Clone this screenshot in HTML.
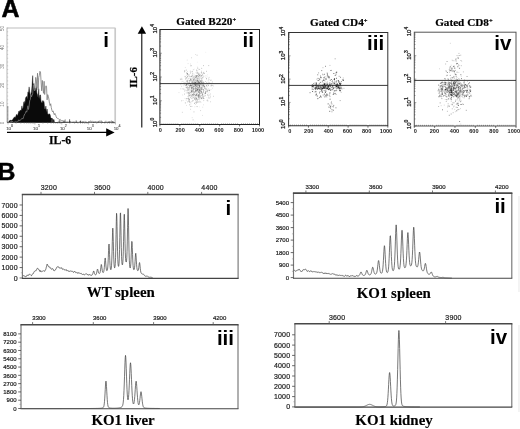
<!DOCTYPE html>
<html lang="en">
<head>
<meta charset="utf-8">
<title>Figure</title>
<style>
html,body{margin:0;padding:0;background:#fff;}
body{width:520px;height:429px;overflow:hidden;}
svg{display:block;filter:blur(0.3px);}
.sa{font-family:"Liberation Sans", Arial, Helvetica, sans-serif;}
.se{font-family:"Liberation Serif", "Times New Roman", Times, serif;}
</style>
</head>
<body>
<svg width="520" height="429" viewBox="0 0 520 429">
<rect width="520" height="429" fill="#fff"/>
<text class="sa" x="1.5" y="17.2" font-size="24.9" font-weight="bold" text-anchor="start" fill="#000" stroke="#000" stroke-width="0.5">A</text>
<text class="sa" x="-2.4" y="180.2" font-size="24.8" font-weight="bold" text-anchor="start" fill="#000" stroke="#000" stroke-width="0.5">B</text>
<path d="M7 122.5V28H115.5" fill="none" stroke="#bdbdbd" stroke-width="1.1"/>
<path d="M115.2 28V122.5" fill="none" stroke="#cacaca" stroke-width="1.7"/>
<path d="M7 122.5H115.5" fill="none" stroke="#a8a8a8" stroke-width="1"/>
<text class="sa" transform="translate(4.2 28.5) rotate(-90)" font-size="4.6" font-weight="normal" text-anchor="middle" fill="#777" >50</text>
<text class="sa" transform="translate(4.2 47.4) rotate(-90)" font-size="4.6" font-weight="normal" text-anchor="middle" fill="#777" >40</text>
<text class="sa" transform="translate(4.2 66.3) rotate(-90)" font-size="4.6" font-weight="normal" text-anchor="middle" fill="#777" >30</text>
<text class="sa" transform="translate(4.2 85.2) rotate(-90)" font-size="4.6" font-weight="normal" text-anchor="middle" fill="#777" >20</text>
<text class="sa" transform="translate(4.2 104.1) rotate(-90)" font-size="4.6" font-weight="normal" text-anchor="middle" fill="#777" >10</text>
<text class="sa" transform="translate(4.2 123.0) rotate(-90)" font-size="4.6" font-weight="normal" text-anchor="middle" fill="#777" >0</text>
<line x1="7" x2="8.2" y1="28.00" y2="28.00" stroke="#aaa" stroke-width="0.5"/>
<line x1="7" x2="8.2" y1="31.78" y2="31.78" stroke="#aaa" stroke-width="0.5"/>
<line x1="7" x2="8.2" y1="35.56" y2="35.56" stroke="#aaa" stroke-width="0.5"/>
<line x1="7" x2="8.2" y1="39.34" y2="39.34" stroke="#aaa" stroke-width="0.5"/>
<line x1="7" x2="8.2" y1="43.12" y2="43.12" stroke="#aaa" stroke-width="0.5"/>
<line x1="7" x2="8.2" y1="46.90" y2="46.90" stroke="#aaa" stroke-width="0.5"/>
<line x1="7" x2="8.2" y1="50.68" y2="50.68" stroke="#aaa" stroke-width="0.5"/>
<line x1="7" x2="8.2" y1="54.46" y2="54.46" stroke="#aaa" stroke-width="0.5"/>
<line x1="7" x2="8.2" y1="58.24" y2="58.24" stroke="#aaa" stroke-width="0.5"/>
<line x1="7" x2="8.2" y1="62.02" y2="62.02" stroke="#aaa" stroke-width="0.5"/>
<line x1="7" x2="8.2" y1="65.80" y2="65.80" stroke="#aaa" stroke-width="0.5"/>
<line x1="7" x2="8.2" y1="69.58" y2="69.58" stroke="#aaa" stroke-width="0.5"/>
<line x1="7" x2="8.2" y1="73.36" y2="73.36" stroke="#aaa" stroke-width="0.5"/>
<line x1="7" x2="8.2" y1="77.14" y2="77.14" stroke="#aaa" stroke-width="0.5"/>
<line x1="7" x2="8.2" y1="80.92" y2="80.92" stroke="#aaa" stroke-width="0.5"/>
<line x1="7" x2="8.2" y1="84.70" y2="84.70" stroke="#aaa" stroke-width="0.5"/>
<line x1="7" x2="8.2" y1="88.48" y2="88.48" stroke="#aaa" stroke-width="0.5"/>
<line x1="7" x2="8.2" y1="92.26" y2="92.26" stroke="#aaa" stroke-width="0.5"/>
<line x1="7" x2="8.2" y1="96.04" y2="96.04" stroke="#aaa" stroke-width="0.5"/>
<line x1="7" x2="8.2" y1="99.82" y2="99.82" stroke="#aaa" stroke-width="0.5"/>
<line x1="7" x2="8.2" y1="103.60" y2="103.60" stroke="#aaa" stroke-width="0.5"/>
<line x1="7" x2="8.2" y1="107.38" y2="107.38" stroke="#aaa" stroke-width="0.5"/>
<line x1="7" x2="8.2" y1="111.16" y2="111.16" stroke="#aaa" stroke-width="0.5"/>
<line x1="7" x2="8.2" y1="114.94" y2="114.94" stroke="#aaa" stroke-width="0.5"/>
<line x1="7" x2="8.2" y1="118.72" y2="118.72" stroke="#aaa" stroke-width="0.5"/>
<line x1="7" x2="8.2" y1="122.50" y2="122.50" stroke="#aaa" stroke-width="0.5"/>
<polygon points="7.5,122.5 7.5,122.3 8.1,122.2 8.7,122.0 9.3,121.0 9.9,120.2 10.5,120.1 11.1,120.9 11.7,120.0 12.3,119.7 12.9,119.7 13.5,117.9 14.1,117.4 14.7,117.1 15.3,117.6 15.9,116.1 16.5,114.3 17.1,115.5 17.7,115.1 18.3,113.1 18.9,111.0 19.5,112.0 20.1,110.0 20.7,110.5 21.3,110.2 21.9,105.9 22.5,109.3 23.1,107.8 23.7,102.2 24.3,101.4 24.9,104.1 25.5,98.3 26.1,96.8 26.7,96.6 27.3,99.2 27.9,91.9 28.5,92.8 29.1,86.9 29.7,91.7 30.3,96.3 30.9,94.0 31.5,91.7 32.1,84.7 32.7,75.6 33.3,89.3 33.9,83.4 34.5,89.6 35.1,88.1 35.7,91.5 36.3,86.6 36.9,93.0 37.5,94.8 38.1,98.2 38.7,88.8 39.3,99.3 39.9,95.0 40.5,94.9 41.1,102.8 41.7,102.2 42.3,100.5 42.9,103.1 43.5,100.7 44.1,102.2 44.7,108.9 45.3,109.2 45.9,106.0 46.5,112.5 47.1,109.0 47.7,114.1 48.3,114.4 48.9,113.7 49.5,114.1 50.1,114.5 50.7,117.4 51.3,118.6 51.9,118.0 52.5,118.8 53.1,119.9 53.7,119.5 54.3,121.3 54.9,122.5 55.5,122.5 56.1,122.5 56.7,122.5 57.3,122.5 57.9,122.5 58.5,122.5 59.1,122.5 59.7,122.5 60.3,122.5 60.9,122.5 61.5,122.5 62.1,122.5 62.7,122.5 63.3,122.5 63.9,122.5 64.5,122.5 65.1,122.5 65.7,122.5 66.3,122.5 66.9,122.5 67.5,122.5 68.1,122.5 68.7,122.5 69.3,122.5 69.9,122.5 70.5,122.5 71.1,122.5 71.7,122.5 72.3,122.5 72.9,122.5 73.5,122.5 74.1,122.5 74.7,122.5 75.3,122.5 75.9,122.5 76.5,122.5 77.1,122.5 77.7,122.5 78.3,122.5 78.9,122.5 79.5,122.5 80.1,122.5 80.7,122.5 81.3,122.5 81.9,122.5 82.5,122.5 83.1,122.5 83.7,122.5 84.3,122.5 84.9,122.5 85.5,122.5 86.1,122.5 86.7,122.5 87.3,122.5 87.9,122.5 88.5,122.5 89.1,122.5 89.7,122.5 90.3,122.5 90.9,122.5 91.5,122.5 92.1,122.5 92.7,122.5 93.3,122.5 93.9,122.5 94.5,122.5 95.1,122.5 95.7,122.5 96.3,122.5 96.9,122.5 97.5,122.5 98.1,122.5 98.7,122.5 99.3,122.5 99.9,122.5 100.5,122.5 101.1,122.5 101.7,122.5 102.3,122.5 102.9,122.5 103.5,122.5 104.1,122.5 104.7,122.5 105.3,122.5 105.9,122.5 106.5,122.5 107.1,122.5 107.7,122.5 108.3,122.5 108.9,122.5 109.5,122.5 110.1,122.5 110.7,122.5 111.3,122.5 111.9,122.5 112.5,122.5 113.1,122.5 113.7,122.5 114.3,122.5 114.5,122.5" fill="#0a0a0a" stroke="#0a0a0a" stroke-width="0.4"/>
<polyline points="7.5,121.8 8.1,122.5 8.7,122.5 9.3,122.5 9.9,122.5 10.5,122.3 11.1,121.2 11.7,122.4 12.3,121.3 12.9,121.6 13.5,122.3 14.1,122.3 14.7,122.1 15.3,121.5 15.9,122.1 16.5,122.0 17.1,121.7 17.7,121.0 18.3,121.2 18.9,119.8 19.5,120.6 20.1,120.6 20.7,119.9 21.3,119.0 21.9,118.3 22.5,118.6 23.1,118.7 23.7,116.5 24.3,115.0 24.9,113.7 25.5,113.2 26.1,111.3 26.7,112.1 27.3,109.2 27.9,105.8 28.5,109.5 29.1,106.0 29.7,100.7 30.3,99.7 30.9,94.6 31.5,96.9 32.1,95.2 32.7,93.9 33.3,85.1 33.9,88.7 34.5,90.8 35.1,87.6 35.7,77.4 36.3,79.8 36.9,87.8 37.5,73.2 38.1,89.8 38.7,77.5 39.3,75.3 39.9,71.3 40.5,72.0 41.1,82.1 41.7,90.8 42.3,80.4 42.9,87.9 43.5,93.3 44.1,81.3 44.7,94.5 45.3,86.7 45.9,85.8 46.5,86.2 47.1,99.9 47.7,94.6 48.3,96.2 48.9,99.0 49.5,103.5 50.1,105.6 50.7,103.7 51.3,107.7 51.9,110.2 52.5,111.8 53.1,110.9 53.7,113.1 54.3,114.8 54.9,113.4 55.5,114.5 56.1,116.5 56.7,117.9 57.3,118.4 57.9,118.1 58.5,118.8 59.1,119.6 59.7,119.6 60.3,119.4 60.9,120.6 61.5,120.7 62.1,121.1 62.7,120.6 63.3,121.3 63.9,121.5 64.5,121.7 65.1,120.8 65.7,121.6 66.3,122.0 66.9,122.0 67.5,121.9 68.1,122.0 68.7,122.1 69.3,122.1 69.9,121.0 70.5,122.2 71.1,122.2 71.7,122.3 72.3,122.2 72.9,121.6 73.5,122.2 74.1,121.6 74.7,122.3 75.3,122.3 75.9,122.3 76.5,122.3 77.1,122.2 77.7,122.3 78.3,122.4 78.9,122.3 79.5,122.4 80.1,121.0 80.7,121.4 81.3,122.4 81.9,122.0 82.5,121.9 83.1,121.2 83.7,122.4 84.3,122.4 84.9,122.4 85.5,122.4 86.1,122.4 86.7,122.4 87.3,122.5 87.9,122.5 88.5,122.5 89.1,121.1 89.7,122.5 90.3,122.5 90.9,122.5 91.5,121.8 92.1,122.5 92.7,122.5 93.3,122.5 93.9,122.0 94.5,122.5 95.1,121.3 95.7,122.5 96.3,122.5 96.9,121.7 97.5,121.9 98.1,122.5 98.7,121.1 99.3,122.5 99.9,122.5 100.5,122.5 101.1,122.0 101.7,121.8 102.3,121.9 102.9,121.9 103.5,122.5 104.1,122.5 104.7,121.8 105.3,122.1 105.9,122.5 106.5,122.5 107.1,122.5 107.7,122.3 108.3,122.5 108.9,121.2 109.5,121.8 110.1,121.7 110.7,122.5 111.3,121.7 111.9,122.5 112.5,122.5 113.1,121.5 113.7,122.2 114.3,122.5" fill="none" stroke="#7c7c7c" stroke-width="0.8"/>
<line x1="7.8" x2="7.8" y1="106" y2="122.5" stroke="#666" stroke-width="0.7"/>
<line x1="52.0" x2="52.0" y1="119.2" y2="122.5" stroke="#888" stroke-width="0.7"/>
<line x1="53.1" x2="53.1" y1="122.0" y2="122.5" stroke="#222" stroke-width="0.7"/>
<line x1="54.2" x2="54.2" y1="119.5" y2="122.5" stroke="#888" stroke-width="0.7"/>
<line x1="55.3" x2="55.3" y1="122.4" y2="122.5" stroke="#888" stroke-width="0.7"/>
<line x1="57.5" x2="57.5" y1="121.9" y2="122.5" stroke="#222" stroke-width="0.7"/>
<line x1="58.6" x2="58.6" y1="120.7" y2="122.5" stroke="#888" stroke-width="0.7"/>
<line x1="59.7" x2="59.7" y1="120.3" y2="122.5" stroke="#222" stroke-width="0.7"/>
<line x1="60.8" x2="60.8" y1="121.2" y2="122.5" stroke="#888" stroke-width="0.7"/>
<line x1="63.0" x2="63.0" y1="120.7" y2="122.5" stroke="#888" stroke-width="0.7"/>
<line x1="64.1" x2="64.1" y1="120.4" y2="122.5" stroke="#222" stroke-width="0.7"/>
<line x1="65.2" x2="65.2" y1="119.2" y2="122.5" stroke="#888" stroke-width="0.7"/>
<line x1="67.4" x2="67.4" y1="122.2" y2="122.5" stroke="#888" stroke-width="0.7"/>
<line x1="68.5" x2="68.5" y1="122.1" y2="122.5" stroke="#888" stroke-width="0.7"/>
<line x1="69.6" x2="69.6" y1="119.3" y2="122.5" stroke="#222" stroke-width="0.7"/>
<line x1="70.7" x2="70.7" y1="121.4" y2="122.5" stroke="#888" stroke-width="0.7"/>
<line x1="71.8" x2="71.8" y1="121.8" y2="122.5" stroke="#888" stroke-width="0.7"/>
<line x1="76.2" x2="76.2" y1="120.5" y2="122.5" stroke="#222" stroke-width="0.7"/>
<line x1="77.3" x2="77.3" y1="122.4" y2="122.5" stroke="#222" stroke-width="0.7"/>
<line x1="78.4" x2="78.4" y1="121.9" y2="122.5" stroke="#888" stroke-width="0.7"/>
<line x1="79.5" x2="79.5" y1="121.9" y2="122.5" stroke="#888" stroke-width="0.7"/>
<line x1="80.6" x2="80.6" y1="120.7" y2="122.5" stroke="#222" stroke-width="0.7"/>
<line x1="83.9" x2="83.9" y1="122.5" y2="122.5" stroke="#888" stroke-width="0.7"/>
<line x1="85.0" x2="85.0" y1="120.9" y2="122.5" stroke="#888" stroke-width="0.7"/>
<line x1="86.1" x2="86.1" y1="121.7" y2="122.5" stroke="#222" stroke-width="0.7"/>
<line x1="88.3" x2="88.3" y1="121.8" y2="122.5" stroke="#222" stroke-width="0.7"/>
<line x1="89.4" x2="89.4" y1="121.8" y2="122.5" stroke="#888" stroke-width="0.7"/>
<line x1="90.5" x2="90.5" y1="120.5" y2="122.5" stroke="#888" stroke-width="0.7"/>
<line x1="91.6" x2="91.6" y1="120.9" y2="122.5" stroke="#888" stroke-width="0.7"/>
<line x1="92.7" x2="92.7" y1="120.8" y2="122.5" stroke="#888" stroke-width="0.7"/>
<line x1="93.8" x2="93.8" y1="121.6" y2="122.5" stroke="#222" stroke-width="0.7"/>
<line x1="94.9" x2="94.9" y1="122.4" y2="122.5" stroke="#888" stroke-width="0.7"/>
<line x1="96.0" x2="96.0" y1="121.4" y2="122.5" stroke="#888" stroke-width="0.7"/>
<line x1="97.1" x2="97.1" y1="121.6" y2="122.5" stroke="#888" stroke-width="0.7"/>
<line x1="98.2" x2="98.2" y1="122.3" y2="122.5" stroke="#222" stroke-width="0.7"/>
<line x1="99.3" x2="99.3" y1="120.5" y2="122.5" stroke="#888" stroke-width="0.7"/>
<line x1="100.4" x2="100.4" y1="120.6" y2="122.5" stroke="#888" stroke-width="0.7"/>
<line x1="101.5" x2="101.5" y1="120.5" y2="122.5" stroke="#888" stroke-width="0.7"/>
<line x1="104.8" x2="104.8" y1="122.3" y2="122.5" stroke="#222" stroke-width="0.7"/>
<line x1="105.9" x2="105.9" y1="120.7" y2="122.5" stroke="#888" stroke-width="0.7"/>
<line x1="107.0" x2="107.0" y1="121.4" y2="122.5" stroke="#888" stroke-width="0.7"/>
<line x1="108.1" x2="108.1" y1="122.2" y2="122.5" stroke="#222" stroke-width="0.7"/>
<line x1="110.3" x2="110.3" y1="121.4" y2="122.5" stroke="#888" stroke-width="0.7"/>
<line x1="111.4" x2="111.4" y1="120.4" y2="122.5" stroke="#888" stroke-width="0.7"/>
<line x1="112.5" x2="112.5" y1="121.4" y2="122.5" stroke="#222" stroke-width="0.7"/>
<line x1="113.6" x2="113.6" y1="122.4" y2="122.5" stroke="#888" stroke-width="0.7"/>
<text class="sa" transform="translate(9.6 129.6) scale(1.0 1)" font-size="4.4" text-anchor="middle" fill="#555" stroke="#555" stroke-width="0.12">10<tspan dy="-2.20" font-size="3.61">0</tspan></text>
<line x1="8.00" x2="8.00" y1="122.5" y2="124.5" stroke="#777" stroke-width="0.5"/>
<line x1="16.09" x2="16.09" y1="122.5" y2="123.7" stroke="#777" stroke-width="0.5"/>
<line x1="20.82" x2="20.82" y1="122.5" y2="123.7" stroke="#777" stroke-width="0.5"/>
<line x1="24.18" x2="24.18" y1="122.5" y2="123.7" stroke="#777" stroke-width="0.5"/>
<line x1="26.78" x2="26.78" y1="122.5" y2="123.7" stroke="#777" stroke-width="0.5"/>
<line x1="28.91" x2="28.91" y1="122.5" y2="123.7" stroke="#777" stroke-width="0.5"/>
<line x1="30.71" x2="30.71" y1="122.5" y2="123.7" stroke="#777" stroke-width="0.5"/>
<line x1="32.27" x2="32.27" y1="122.5" y2="123.7" stroke="#777" stroke-width="0.5"/>
<line x1="33.65" x2="33.65" y1="122.5" y2="123.7" stroke="#777" stroke-width="0.5"/>
<text class="sa" transform="translate(36.475 129.6) scale(1.0 1)" font-size="4.4" text-anchor="middle" fill="#555" stroke="#555" stroke-width="0.12">10<tspan dy="-2.20" font-size="3.61">1</tspan></text>
<line x1="34.88" x2="34.88" y1="122.5" y2="124.5" stroke="#777" stroke-width="0.5"/>
<line x1="42.97" x2="42.97" y1="122.5" y2="123.7" stroke="#777" stroke-width="0.5"/>
<line x1="47.70" x2="47.70" y1="122.5" y2="123.7" stroke="#777" stroke-width="0.5"/>
<line x1="51.06" x2="51.06" y1="122.5" y2="123.7" stroke="#777" stroke-width="0.5"/>
<line x1="53.66" x2="53.66" y1="122.5" y2="123.7" stroke="#777" stroke-width="0.5"/>
<line x1="55.79" x2="55.79" y1="122.5" y2="123.7" stroke="#777" stroke-width="0.5"/>
<line x1="57.59" x2="57.59" y1="122.5" y2="123.7" stroke="#777" stroke-width="0.5"/>
<line x1="59.15" x2="59.15" y1="122.5" y2="123.7" stroke="#777" stroke-width="0.5"/>
<line x1="60.52" x2="60.52" y1="122.5" y2="123.7" stroke="#777" stroke-width="0.5"/>
<text class="sa" transform="translate(63.35 129.6) scale(1.0 1)" font-size="4.4" text-anchor="middle" fill="#555" stroke="#555" stroke-width="0.12">10<tspan dy="-2.20" font-size="3.61">2</tspan></text>
<line x1="61.75" x2="61.75" y1="122.5" y2="124.5" stroke="#777" stroke-width="0.5"/>
<line x1="69.84" x2="69.84" y1="122.5" y2="123.7" stroke="#777" stroke-width="0.5"/>
<line x1="74.57" x2="74.57" y1="122.5" y2="123.7" stroke="#777" stroke-width="0.5"/>
<line x1="77.93" x2="77.93" y1="122.5" y2="123.7" stroke="#777" stroke-width="0.5"/>
<line x1="80.53" x2="80.53" y1="122.5" y2="123.7" stroke="#777" stroke-width="0.5"/>
<line x1="82.66" x2="82.66" y1="122.5" y2="123.7" stroke="#777" stroke-width="0.5"/>
<line x1="84.46" x2="84.46" y1="122.5" y2="123.7" stroke="#777" stroke-width="0.5"/>
<line x1="86.02" x2="86.02" y1="122.5" y2="123.7" stroke="#777" stroke-width="0.5"/>
<line x1="87.40" x2="87.40" y1="122.5" y2="123.7" stroke="#777" stroke-width="0.5"/>
<text class="sa" transform="translate(90.225 129.6) scale(1.0 1)" font-size="4.4" text-anchor="middle" fill="#555" stroke="#555" stroke-width="0.12">10<tspan dy="-2.20" font-size="3.61">3</tspan></text>
<line x1="88.62" x2="88.62" y1="122.5" y2="124.5" stroke="#777" stroke-width="0.5"/>
<line x1="96.72" x2="96.72" y1="122.5" y2="123.7" stroke="#777" stroke-width="0.5"/>
<line x1="101.45" x2="101.45" y1="122.5" y2="123.7" stroke="#777" stroke-width="0.5"/>
<line x1="104.81" x2="104.81" y1="122.5" y2="123.7" stroke="#777" stroke-width="0.5"/>
<line x1="107.41" x2="107.41" y1="122.5" y2="123.7" stroke="#777" stroke-width="0.5"/>
<line x1="109.54" x2="109.54" y1="122.5" y2="123.7" stroke="#777" stroke-width="0.5"/>
<line x1="111.34" x2="111.34" y1="122.5" y2="123.7" stroke="#777" stroke-width="0.5"/>
<line x1="112.90" x2="112.90" y1="122.5" y2="123.7" stroke="#777" stroke-width="0.5"/>
<line x1="114.27" x2="114.27" y1="122.5" y2="123.7" stroke="#777" stroke-width="0.5"/>
<text class="sa" transform="translate(117.1 129.6) scale(1.0 1)" font-size="4.4" text-anchor="middle" fill="#555" stroke="#555" stroke-width="0.12">10<tspan dy="-2.20" font-size="3.61">4</tspan></text>
<line x1="115.50" x2="115.50" y1="122.5" y2="124.5" stroke="#777" stroke-width="0.5"/>
<line x1="7" x2="108" y1="132.4" y2="132.4" stroke="#000" stroke-width="1.1"/>
<polygon points="106.2,128.2 114.6,132.4 106.2,136.6" fill="#000"/>
<text class="se" x="60.1" y="143.6" font-size="11.7" font-weight="bold" text-anchor="middle" fill="#000" stroke="#000" stroke-width="0.25">IL-6</text>
<text class="sa" x="103.3" y="46.9" font-size="20.6" font-weight="bold" text-anchor="start" fill="#000" >i</text>
<line x1="141.8" x2="141.8" y1="32" y2="127.5" stroke="#000" stroke-width="1.05"/>
<polygon points="137.7,33.7 141.9,26.2 146.1,33.7" fill="#000"/>
<text class="se" transform="translate(136.9 77.4) rotate(-90)" font-size="10.9" font-weight="bold" text-anchor="middle" fill="#000" stroke="#000" stroke-width="0.25">IL-6</text>
<rect x="159.9" y="29.5" width="99.6" height="95.0" fill="none" stroke="#222" stroke-width="1"/>
<line x1="159.9" x2="161.9" y1="124.50" y2="124.50" stroke="#333" stroke-width="0.45"/>
<line x1="159.9" x2="161.1" y1="117.35" y2="117.35" stroke="#333" stroke-width="0.45"/>
<line x1="159.9" x2="161.1" y1="113.17" y2="113.17" stroke="#333" stroke-width="0.45"/>
<line x1="159.9" x2="161.1" y1="110.20" y2="110.20" stroke="#333" stroke-width="0.45"/>
<line x1="159.9" x2="161.1" y1="107.90" y2="107.90" stroke="#333" stroke-width="0.45"/>
<line x1="159.9" x2="161.1" y1="106.02" y2="106.02" stroke="#333" stroke-width="0.45"/>
<line x1="159.9" x2="161.1" y1="104.43" y2="104.43" stroke="#333" stroke-width="0.45"/>
<line x1="159.9" x2="161.1" y1="103.05" y2="103.05" stroke="#333" stroke-width="0.45"/>
<line x1="159.9" x2="161.1" y1="101.84" y2="101.84" stroke="#333" stroke-width="0.45"/>
<line x1="159.9" x2="161.9" y1="100.75" y2="100.75" stroke="#333" stroke-width="0.45"/>
<line x1="159.9" x2="161.1" y1="93.60" y2="93.60" stroke="#333" stroke-width="0.45"/>
<line x1="159.9" x2="161.1" y1="89.42" y2="89.42" stroke="#333" stroke-width="0.45"/>
<line x1="159.9" x2="161.1" y1="86.45" y2="86.45" stroke="#333" stroke-width="0.45"/>
<line x1="159.9" x2="161.1" y1="84.15" y2="84.15" stroke="#333" stroke-width="0.45"/>
<line x1="159.9" x2="161.1" y1="82.27" y2="82.27" stroke="#333" stroke-width="0.45"/>
<line x1="159.9" x2="161.1" y1="80.68" y2="80.68" stroke="#333" stroke-width="0.45"/>
<line x1="159.9" x2="161.1" y1="79.30" y2="79.30" stroke="#333" stroke-width="0.45"/>
<line x1="159.9" x2="161.1" y1="78.09" y2="78.09" stroke="#333" stroke-width="0.45"/>
<line x1="159.9" x2="161.9" y1="77.00" y2="77.00" stroke="#333" stroke-width="0.45"/>
<line x1="159.9" x2="161.1" y1="69.85" y2="69.85" stroke="#333" stroke-width="0.45"/>
<line x1="159.9" x2="161.1" y1="65.67" y2="65.67" stroke="#333" stroke-width="0.45"/>
<line x1="159.9" x2="161.1" y1="62.70" y2="62.70" stroke="#333" stroke-width="0.45"/>
<line x1="159.9" x2="161.1" y1="60.40" y2="60.40" stroke="#333" stroke-width="0.45"/>
<line x1="159.9" x2="161.1" y1="58.52" y2="58.52" stroke="#333" stroke-width="0.45"/>
<line x1="159.9" x2="161.1" y1="56.93" y2="56.93" stroke="#333" stroke-width="0.45"/>
<line x1="159.9" x2="161.1" y1="55.55" y2="55.55" stroke="#333" stroke-width="0.45"/>
<line x1="159.9" x2="161.1" y1="54.34" y2="54.34" stroke="#333" stroke-width="0.45"/>
<line x1="159.9" x2="161.9" y1="53.25" y2="53.25" stroke="#333" stroke-width="0.45"/>
<line x1="159.9" x2="161.1" y1="46.10" y2="46.10" stroke="#333" stroke-width="0.45"/>
<line x1="159.9" x2="161.1" y1="41.92" y2="41.92" stroke="#333" stroke-width="0.45"/>
<line x1="159.9" x2="161.1" y1="38.95" y2="38.95" stroke="#333" stroke-width="0.45"/>
<line x1="159.9" x2="161.1" y1="36.65" y2="36.65" stroke="#333" stroke-width="0.45"/>
<line x1="159.9" x2="161.1" y1="34.77" y2="34.77" stroke="#333" stroke-width="0.45"/>
<line x1="159.9" x2="161.1" y1="33.18" y2="33.18" stroke="#333" stroke-width="0.45"/>
<line x1="159.9" x2="161.1" y1="31.80" y2="31.80" stroke="#333" stroke-width="0.45"/>
<line x1="159.9" x2="161.1" y1="30.59" y2="30.59" stroke="#333" stroke-width="0.45"/>
<line x1="159.90" x2="159.90" y1="124.5" y2="126.4" stroke="#333" stroke-width="0.7"/>
<line x1="161.89" x2="161.89" y1="124.5" y2="123.3" stroke="#333" stroke-width="0.45"/>
<line x1="163.88" x2="163.88" y1="124.5" y2="123.3" stroke="#333" stroke-width="0.45"/>
<line x1="165.88" x2="165.88" y1="124.5" y2="123.3" stroke="#333" stroke-width="0.45"/>
<line x1="167.87" x2="167.87" y1="124.5" y2="123.3" stroke="#333" stroke-width="0.45"/>
<line x1="169.86" x2="169.86" y1="124.5" y2="123.3" stroke="#333" stroke-width="0.45"/>
<line x1="171.85" x2="171.85" y1="124.5" y2="123.3" stroke="#333" stroke-width="0.45"/>
<line x1="173.84" x2="173.84" y1="124.5" y2="123.3" stroke="#333" stroke-width="0.45"/>
<line x1="175.84" x2="175.84" y1="124.5" y2="123.3" stroke="#333" stroke-width="0.45"/>
<line x1="177.83" x2="177.83" y1="124.5" y2="123.3" stroke="#333" stroke-width="0.45"/>
<line x1="179.82" x2="179.82" y1="124.5" y2="126.4" stroke="#333" stroke-width="0.7"/>
<line x1="181.81" x2="181.81" y1="124.5" y2="123.3" stroke="#333" stroke-width="0.45"/>
<line x1="183.80" x2="183.80" y1="124.5" y2="123.3" stroke="#333" stroke-width="0.45"/>
<line x1="185.80" x2="185.80" y1="124.5" y2="123.3" stroke="#333" stroke-width="0.45"/>
<line x1="187.79" x2="187.79" y1="124.5" y2="123.3" stroke="#333" stroke-width="0.45"/>
<line x1="189.78" x2="189.78" y1="124.5" y2="123.3" stroke="#333" stroke-width="0.45"/>
<line x1="191.77" x2="191.77" y1="124.5" y2="123.3" stroke="#333" stroke-width="0.45"/>
<line x1="193.76" x2="193.76" y1="124.5" y2="123.3" stroke="#333" stroke-width="0.45"/>
<line x1="195.76" x2="195.76" y1="124.5" y2="123.3" stroke="#333" stroke-width="0.45"/>
<line x1="197.75" x2="197.75" y1="124.5" y2="123.3" stroke="#333" stroke-width="0.45"/>
<line x1="199.74" x2="199.74" y1="124.5" y2="126.4" stroke="#333" stroke-width="0.7"/>
<line x1="201.73" x2="201.73" y1="124.5" y2="123.3" stroke="#333" stroke-width="0.45"/>
<line x1="203.72" x2="203.72" y1="124.5" y2="123.3" stroke="#333" stroke-width="0.45"/>
<line x1="205.72" x2="205.72" y1="124.5" y2="123.3" stroke="#333" stroke-width="0.45"/>
<line x1="207.71" x2="207.71" y1="124.5" y2="123.3" stroke="#333" stroke-width="0.45"/>
<line x1="209.70" x2="209.70" y1="124.5" y2="123.3" stroke="#333" stroke-width="0.45"/>
<line x1="211.69" x2="211.69" y1="124.5" y2="123.3" stroke="#333" stroke-width="0.45"/>
<line x1="213.68" x2="213.68" y1="124.5" y2="123.3" stroke="#333" stroke-width="0.45"/>
<line x1="215.68" x2="215.68" y1="124.5" y2="123.3" stroke="#333" stroke-width="0.45"/>
<line x1="217.67" x2="217.67" y1="124.5" y2="123.3" stroke="#333" stroke-width="0.45"/>
<line x1="219.66" x2="219.66" y1="124.5" y2="126.4" stroke="#333" stroke-width="0.7"/>
<line x1="221.65" x2="221.65" y1="124.5" y2="123.3" stroke="#333" stroke-width="0.45"/>
<line x1="223.64" x2="223.64" y1="124.5" y2="123.3" stroke="#333" stroke-width="0.45"/>
<line x1="225.64" x2="225.64" y1="124.5" y2="123.3" stroke="#333" stroke-width="0.45"/>
<line x1="227.63" x2="227.63" y1="124.5" y2="123.3" stroke="#333" stroke-width="0.45"/>
<line x1="229.62" x2="229.62" y1="124.5" y2="123.3" stroke="#333" stroke-width="0.45"/>
<line x1="231.61" x2="231.61" y1="124.5" y2="123.3" stroke="#333" stroke-width="0.45"/>
<line x1="233.60" x2="233.60" y1="124.5" y2="123.3" stroke="#333" stroke-width="0.45"/>
<line x1="235.60" x2="235.60" y1="124.5" y2="123.3" stroke="#333" stroke-width="0.45"/>
<line x1="237.59" x2="237.59" y1="124.5" y2="123.3" stroke="#333" stroke-width="0.45"/>
<line x1="239.58" x2="239.58" y1="124.5" y2="126.4" stroke="#333" stroke-width="0.7"/>
<line x1="241.57" x2="241.57" y1="124.5" y2="123.3" stroke="#333" stroke-width="0.45"/>
<line x1="243.56" x2="243.56" y1="124.5" y2="123.3" stroke="#333" stroke-width="0.45"/>
<line x1="245.56" x2="245.56" y1="124.5" y2="123.3" stroke="#333" stroke-width="0.45"/>
<line x1="247.55" x2="247.55" y1="124.5" y2="123.3" stroke="#333" stroke-width="0.45"/>
<line x1="249.54" x2="249.54" y1="124.5" y2="123.3" stroke="#333" stroke-width="0.45"/>
<line x1="251.53" x2="251.53" y1="124.5" y2="123.3" stroke="#333" stroke-width="0.45"/>
<line x1="253.52" x2="253.52" y1="124.5" y2="123.3" stroke="#333" stroke-width="0.45"/>
<line x1="255.52" x2="255.52" y1="124.5" y2="123.3" stroke="#333" stroke-width="0.45"/>
<line x1="257.51" x2="257.51" y1="124.5" y2="123.3" stroke="#333" stroke-width="0.45"/>
<line x1="259.50" x2="259.50" y1="124.5" y2="126.4" stroke="#333" stroke-width="0.7"/>
<text class="sa" transform="translate(156.70000000000002 122.5) rotate(-90) scale(1.12 1)" font-size="5.4" text-anchor="middle" fill="#222" stroke="#222" stroke-width="0.25">10<tspan dy="-2.70" font-size="4.43">0</tspan></text>
<text class="sa" transform="translate(156.70000000000002 100.2) rotate(-90) scale(1.12 1)" font-size="5.4" text-anchor="middle" fill="#222" stroke="#222" stroke-width="0.25">10<tspan dy="-2.70" font-size="4.43">1</tspan></text>
<text class="sa" transform="translate(156.70000000000002 76.8) rotate(-90) scale(1.12 1)" font-size="5.4" text-anchor="middle" fill="#222" stroke="#222" stroke-width="0.25">10<tspan dy="-2.70" font-size="4.43">2</tspan></text>
<text class="sa" transform="translate(156.70000000000002 52.7) rotate(-90) scale(1.12 1)" font-size="5.4" text-anchor="middle" fill="#222" stroke="#222" stroke-width="0.25">10<tspan dy="-2.70" font-size="4.43">3</tspan></text>
<text class="sa" transform="translate(156.70000000000002 28.8) rotate(-90) scale(1.12 1)" font-size="5.4" text-anchor="middle" fill="#222" stroke="#222" stroke-width="0.25">10<tspan dy="-2.70" font-size="4.43">4</tspan></text>
<text class="sa" x="160.20000000000002" y="131.8" font-size="5.6" font-weight="bold" text-anchor="middle" fill="#222" >0</text>
<text class="sa" x="180.1" y="131.8" font-size="5.6" font-weight="bold" text-anchor="middle" fill="#222" >200</text>
<text class="sa" x="199.45" y="131.8" font-size="5.6" font-weight="bold" text-anchor="middle" fill="#222" >400</text>
<text class="sa" x="218.95" y="131.8" font-size="5.6" font-weight="bold" text-anchor="middle" fill="#222" >600</text>
<text class="sa" x="238.5" y="131.8" font-size="5.6" font-weight="bold" text-anchor="middle" fill="#222" >800</text>
<text class="sa" x="257.9" y="131.8" font-size="5.6" font-weight="bold" text-anchor="middle" fill="#222" >1000</text>
<path d="M201.9 80.1h0.75M196.2 99.7h0.75M199.3 95.7h0.75M188.7 97.0h0.75M184.8 67.6h0.75M197.9 85.0h0.75M200.3 87.8h0.75M197.1 99.3h0.75M194.3 84.9h0.75M198.9 95.8h0.75M196.4 84.8h0.75M187.0 102.5h0.75M189.3 85.5h0.75M198.0 82.1h0.75M187.0 81.5h0.75M185.7 81.0h0.75M211.5 82.4h0.75M199.3 89.3h0.75M200.0 97.7h0.75M183.1 83.2h0.75M195.5 84.8h0.75M191.5 87.3h0.75M206.5 84.7h0.75M205.4 52.3h0.75M190.5 79.2h0.75M199.1 95.1h0.75M191.3 95.0h0.75M196.9 66.8h0.75M202.1 82.6h0.75M203.2 98.6h0.75M200.4 92.9h0.75M202.3 80.9h0.75M206.7 99.9h0.75M188.9 96.0h0.75M195.6 94.9h0.75M191.2 86.6h0.75M199.0 88.6h0.75M188.0 75.5h0.75M193.7 92.1h0.75M188.6 88.3h0.75M203.0 85.3h0.75M207.1 74.8h0.75M184.3 98.4h0.75M196.9 62.2h0.75M198.6 86.0h0.75M193.8 75.6h0.75M191.8 82.2h0.75M197.4 89.3h0.75M210.8 86.4h0.75M193.3 74.8h0.75M186.4 90.4h0.75M197.7 76.7h0.75M203.8 86.1h0.75M201.8 93.2h0.75M187.5 79.4h0.75M197.4 89.1h0.75M190.4 82.0h0.75M197.6 97.5h0.75M195.7 75.8h0.75M191.7 91.7h0.75M202.6 89.9h0.75M195.9 91.6h0.75M204.7 90.4h0.75M183.1 82.4h0.75M198.9 81.8h0.75M203.2 91.8h0.75M189.2 99.0h0.75M197.1 80.2h0.75M193.0 93.0h0.75M191.8 95.9h0.75M187.1 73.8h0.75M204.7 92.9h0.75M200.5 91.3h0.75M190.4 78.9h0.75M200.9 102.3h0.75M206.5 97.5h0.75M195.3 84.7h0.75M196.6 77.3h0.75M197.7 91.7h0.75M186.9 81.1h0.75M193.3 84.6h0.75M192.7 96.8h0.75M189.0 81.0h0.75M198.7 86.8h0.75M193.6 86.6h0.75M199.8 86.6h0.75M199.2 86.1h0.75M190.5 94.7h0.75M193.7 77.9h0.75M204.4 86.0h0.75M194.4 96.2h0.75M187.6 90.5h0.75M209.7 89.5h0.75M187.4 82.2h0.75M195.2 102.4h0.75M201.8 77.3h0.75M195.5 90.2h0.75M190.6 92.8h0.75M187.1 75.4h0.75M194.6 94.3h0.75M195.9 95.5h0.75M202.2 92.9h0.75M188.1 87.4h0.75M201.9 96.9h0.75M197.2 75.8h0.75M186.1 85.7h0.75M194.5 121.2h0.75M183.6 83.8h0.75M193.8 82.2h0.75M192.6 75.6h0.75M197.8 83.9h0.75M195.8 103.6h0.75M209.2 92.2h0.75M190.6 96.0h0.75M199.6 74.6h0.75M185.1 67.4h0.75M202.0 80.9h0.75M198.8 90.3h0.75M196.9 95.5h0.75M190.4 102.8h0.75M198.2 88.9h0.75M199.9 96.9h0.75M187.9 92.0h0.75M192.3 88.0h0.75M187.7 93.2h0.75M198.5 88.6h0.75M200.5 99.7h0.75M196.2 88.5h0.75M180.4 84.8h0.75M206.6 89.6h0.75M205.1 84.6h0.75M193.2 91.5h0.75M180.2 84.6h0.75M196.1 106.3h0.75M192.2 84.0h0.75M194.8 82.4h0.75M207.4 89.1h0.75M190.0 95.3h0.75M190.5 65.5h0.75M191.1 93.2h0.75M188.7 94.8h0.75M189.4 84.4h0.75M192.7 82.9h0.75M193.6 79.8h0.75M189.1 93.6h0.75M199.3 87.5h0.75M202.3 96.4h0.75M193.4 92.1h0.75M195.1 84.5h0.75M194.0 74.2h0.75M199.4 88.6h0.75M195.1 97.7h0.75M205.0 89.8h0.75M196.3 83.7h0.75M181.1 82.9h0.75M192.5 93.9h0.75M199.5 80.4h0.75M192.7 79.0h0.75M196.1 95.2h0.75M194.6 75.7h0.75M190.3 86.8h0.75M206.9 76.8h0.75M200.8 94.9h0.75M193.2 80.7h0.75M197.8 85.3h0.75M198.9 92.0h0.75M199.7 83.9h0.75M199.2 100.3h0.75M182.0 94.7h0.75M198.6 85.2h0.75M202.9 85.9h0.75M202.3 73.5h0.75M192.5 81.4h0.75M193.6 90.2h0.75M202.2 94.5h0.75M190.3 104.3h0.75M207.1 99.6h0.75M188.3 94.1h0.75M198.6 91.3h0.75M202.0 83.9h0.75M201.4 87.5h0.75M201.6 99.6h0.75M183.1 88.8h0.75M190.7 93.3h0.75M190.4 85.1h0.75M193.7 82.2h0.75M189.5 94.9h0.75M200.5 78.9h0.75M191.5 75.2h0.75M186.2 73.5h0.75M189.0 83.6h0.75M200.0 84.6h0.75M203.1 92.6h0.75M186.7 79.9h0.75M190.2 92.6h0.75M201.3 95.3h0.75M198.0 87.2h0.75M194.0 77.0h0.75M197.5 93.6h0.75M190.7 90.6h0.75M191.0 84.7h0.75M190.9 96.3h0.75M185.1 78.7h0.75M190.4 83.9h0.75M210.2 95.6h0.75M202.7 81.8h0.75M196.0 90.0h0.75M193.3 96.5h0.75M201.2 68.0h0.75M185.6 92.9h0.75M200.6 92.1h0.75M192.6 81.4h0.75M194.0 69.2h0.75M191.1 98.7h0.75M194.4 94.7h0.75M192.6 89.3h0.75M193.4 77.6h0.75M193.2 95.2h0.75M207.1 94.2h0.75M189.2 88.8h0.75M207.3 85.7h0.75M199.8 72.8h0.75M188.7 74.3h0.75M205.4 93.0h0.75M195.4 98.9h0.75M201.3 84.2h0.75M195.9 83.6h0.75M193.1 73.3h0.75M190.9 103.9h0.75M208.1 93.0h0.75M197.7 87.0h0.75M198.8 93.9h0.75M197.1 98.2h0.75M200.4 91.5h0.75M191.6 85.5h0.75M189.3 77.3h0.75M198.0 82.2h0.75M200.2 87.3h0.75M193.2 83.9h0.75M189.0 86.9h0.75M195.1 93.6h0.75M187.7 78.0h0.75M190.0 97.7h0.75M196.5 85.2h0.75M197.8 88.4h0.75M208.2 95.7h0.75M201.2 78.1h0.75M200.7 75.7h0.75M191.3 82.6h0.75M197.5 70.4h0.75M199.0 106.9h0.75M182.4 95.3h0.75M198.2 85.2h0.75M193.7 89.1h0.75M211.2 89.6h0.75M199.0 83.9h0.75M194.7 88.5h0.75" stroke="#000" stroke-width="0.75" fill="none" opacity="0.10"/>
<path d="M189.6 78.4h0.75M197.7 92.5h0.75M193.8 89.4h0.75M201.4 89.2h0.75M206.1 85.8h0.75M195.7 81.7h0.75M189.1 90.1h0.75M199.4 101.8h0.75M202.2 115.4h0.75M191.2 78.9h0.75M195.3 87.0h0.75M197.1 72.7h0.75M195.5 99.2h0.75M188.9 83.1h0.75M198.4 89.6h0.75M207.8 90.7h0.75M193.0 93.1h0.75M191.7 71.9h0.75M204.0 87.2h0.75M196.1 99.5h0.75M194.4 78.0h0.75M197.8 78.8h0.75M198.0 101.7h0.75M193.8 94.4h0.75M200.0 89.8h0.75M198.7 82.1h0.75M198.5 92.4h0.75M196.2 90.4h0.75M192.6 97.8h0.75M188.0 97.7h0.75M186.7 93.4h0.75M194.6 98.8h0.75M207.9 98.3h0.75M190.2 80.3h0.75M199.1 91.6h0.75M197.7 87.6h0.75M209.9 80.4h0.75M196.6 80.4h0.75M213.3 86.1h0.75M197.1 77.4h0.75M201.0 72.0h0.75M201.5 82.7h0.75M199.9 90.4h0.75M194.9 77.8h0.75M186.2 75.3h0.75M199.0 79.8h0.75M196.1 84.2h0.75M198.3 90.1h0.75M189.9 73.1h0.75M195.3 85.8h0.75M198.5 86.7h0.75M202.0 94.5h0.75M195.9 89.3h0.75M196.8 95.4h0.75M199.0 91.7h0.75M194.3 103.3h0.75M190.3 92.6h0.75M193.4 76.8h0.75M192.5 89.6h0.75M190.4 66.0h0.75M196.5 93.3h0.75M187.3 89.3h0.75M190.6 81.3h0.75M198.0 95.5h0.75M199.7 85.6h0.75M199.2 77.3h0.75M199.6 102.0h0.75M191.8 78.7h0.75M195.9 99.9h0.75M189.8 92.2h0.75M189.0 101.5h0.75M192.1 84.6h0.75M199.9 78.2h0.75M186.8 60.1h0.75M187.7 63.6h0.75M195.5 89.0h0.75M197.3 84.6h0.75M201.4 87.6h0.75M191.1 98.5h0.75M199.9 98.3h0.75M199.7 92.2h0.75M195.0 91.5h0.75M188.7 92.4h0.75M202.3 86.4h0.75M188.6 83.1h0.75M197.5 88.3h0.75M203.1 104.8h0.75M189.8 102.8h0.75M195.6 72.7h0.75M195.0 84.8h0.75M200.8 85.1h0.75M192.3 77.6h0.75M197.1 84.6h0.75M196.9 100.0h0.75M208.7 94.4h0.75M184.9 103.1h0.75M195.8 98.0h0.75M199.4 90.4h0.75M193.3 94.9h0.75M201.8 85.5h0.75M196.3 98.4h0.75M190.3 94.3h0.75M192.7 94.9h0.75M183.4 85.8h0.75M190.8 88.3h0.75M205.6 75.8h0.75M192.3 98.7h0.75M181.4 78.3h0.75M196.8 100.6h0.75M201.8 83.8h0.75M195.4 95.4h0.75M195.0 96.4h0.75M195.9 86.9h0.75M198.2 83.4h0.75M188.1 82.4h0.75M196.8 94.8h0.75M203.2 91.2h0.75M207.3 84.6h0.75M198.0 73.0h0.75M202.5 82.0h0.75M200.3 96.2h0.75M195.0 92.1h0.75M178.6 92.6h0.75M198.4 77.0h0.75M198.2 69.3h0.75M196.9 99.5h0.75M192.2 81.1h0.75M187.0 71.6h0.75M185.8 100.3h0.75M191.9 101.0h0.75M188.4 93.3h0.75M196.9 81.7h0.75M188.6 76.2h0.75M196.9 93.4h0.75M205.8 89.5h0.75M191.0 85.7h0.75M201.5 95.6h0.75M189.1 89.1h0.75M211.2 84.2h0.75M190.5 84.8h0.75M197.2 96.2h0.75M199.1 90.2h0.75M187.6 96.5h0.75M195.6 83.0h0.75M184.4 84.9h0.75M182.7 100.5h0.75M181.7 81.4h0.75M203.2 85.5h0.75M209.2 90.7h0.75M196.6 91.3h0.75M190.5 89.9h0.75M196.6 91.7h0.75M209.8 83.5h0.75M193.5 86.0h0.75M203.9 86.2h0.75M192.1 88.1h0.75M190.3 83.7h0.75M187.4 98.4h0.75M195.9 88.7h0.75M205.5 77.3h0.75M197.6 82.8h0.75M205.2 87.3h0.75M202.5 94.6h0.75M204.5 94.1h0.75M188.4 89.9h0.75M196.6 86.5h0.75M193.6 78.5h0.75M195.0 104.4h0.75M180.2 88.8h0.75M195.6 83.2h0.75M196.9 84.7h0.75M201.4 73.0h0.75M208.7 79.5h0.75M197.4 67.8h0.75M198.1 85.1h0.75M197.0 100.0h0.75M191.8 88.0h0.75M191.7 85.9h0.75M186.9 89.2h0.75M198.9 82.7h0.75M192.7 95.6h0.75M207.1 90.2h0.75M198.4 81.9h0.75M194.9 88.7h0.75M199.3 96.2h0.75M199.1 82.1h0.75M194.5 106.8h0.75M186.3 90.7h0.75M193.9 81.6h0.75M196.2 88.7h0.75M186.2 105.4h0.75M199.0 85.5h0.75M193.4 87.9h0.75M190.1 64.0h0.75M195.0 54.5h0.75M183.8 84.3h0.75M203.3 85.1h0.75M186.8 92.7h0.75M192.2 71.3h0.75M189.7 101.9h0.75M196.9 81.3h0.75M203.2 89.5h0.75M187.3 82.4h0.75M190.7 85.2h0.75M191.3 90.7h0.75M201.8 80.1h0.75M191.3 91.5h0.75M192.0 79.0h0.75M182.7 81.4h0.75M191.0 89.9h0.75M202.4 107.2h0.75M199.8 74.6h0.75M198.1 81.7h0.75M201.0 71.1h0.75M191.7 92.0h0.75M188.0 94.2h0.75M212.2 88.2h0.75M186.9 81.7h0.75M199.6 97.6h0.75M191.8 117.7h0.75M195.0 77.7h0.75M195.2 90.6h0.75M193.6 86.1h0.75M192.3 90.3h0.75M197.1 88.9h0.75" stroke="#000" stroke-width="0.75" fill="none" opacity="0.19"/>
<path d="M194.9 85.6h0.75M187.1 74.3h0.75M199.6 82.9h0.75M201.4 68.5h0.75M203.5 84.7h0.75M202.9 72.7h0.75M192.0 94.5h0.75M196.7 82.1h0.75M190.3 85.2h0.75M181.9 112.3h0.75M185.1 85.6h0.75M197.7 91.3h0.75M202.2 75.7h0.75M194.5 82.6h0.75M187.4 90.5h0.75M200.8 86.9h0.75M199.1 82.6h0.75M194.7 99.2h0.75M208.3 97.2h0.75M191.5 101.7h0.75M186.4 81.3h0.75M186.0 72.7h0.75M192.9 91.0h0.75M196.6 87.1h0.75M199.0 86.0h0.75M199.2 86.2h0.75M189.2 93.9h0.75M198.1 74.2h0.75M208.4 78.9h0.75M192.6 92.7h0.75M192.2 94.8h0.75M197.7 81.3h0.75M204.1 87.8h0.75M190.3 95.8h0.75M188.9 76.3h0.75M191.1 91.1h0.75M186.6 82.3h0.75M185.1 85.0h0.75M206.9 83.4h0.75M197.2 90.3h0.75M207.8 80.8h0.75M206.3 85.3h0.75M194.9 91.3h0.75M193.9 76.7h0.75M207.2 91.8h0.75M196.8 89.1h0.75M202.6 97.7h0.75M201.6 87.6h0.75M203.9 73.5h0.75M181.6 79.3h0.75M198.5 95.9h0.75M189.2 99.6h0.75M190.3 97.6h0.75M201.6 87.2h0.75M198.6 85.4h0.75M195.4 89.6h0.75M197.4 68.3h0.75M193.1 83.8h0.75M195.7 80.6h0.75M187.2 73.4h0.75M191.0 87.9h0.75M199.3 87.6h0.75M193.0 77.1h0.75M191.4 87.8h0.75M201.3 92.1h0.75M202.0 78.0h0.75M188.2 89.9h0.75M201.6 95.7h0.75M206.2 85.7h0.75M193.6 93.5h0.75M184.6 71.0h0.75M202.9 92.0h0.75M195.6 77.2h0.75M199.9 80.7h0.75M209.0 90.5h0.75M186.8 92.1h0.75M199.8 101.9h0.75M204.7 88.4h0.75M181.8 88.8h0.75M210.1 94.0h0.75M197.4 83.6h0.75M185.8 98.8h0.75M200.0 88.6h0.75M199.1 93.2h0.75M191.3 92.2h0.75M190.9 85.7h0.75M200.9 80.4h0.75M198.6 88.9h0.75M197.2 86.4h0.75M197.6 84.7h0.75M181.0 100.8h0.75M193.4 91.3h0.75M201.3 81.9h0.75M179.9 79.1h0.75M193.5 94.9h0.75M197.4 80.4h0.75M198.0 95.3h0.75M206.2 78.7h0.75M206.7 86.9h0.75M198.3 97.9h0.75M210.2 96.9h0.75M190.0 72.9h0.75M192.9 83.1h0.75M197.3 73.5h0.75M188.7 87.8h0.75M198.2 94.6h0.75M208.0 84.9h0.75M193.3 89.3h0.75M186.4 84.9h0.75M192.0 81.9h0.75M193.2 86.0h0.75M193.5 95.3h0.75M197.0 80.6h0.75M198.8 75.1h0.75M193.0 97.5h0.75M196.3 73.1h0.75M208.6 95.7h0.75M200.7 89.4h0.75M192.6 87.3h0.75M190.6 79.4h0.75M201.0 92.8h0.75M192.1 84.8h0.75M203.3 92.1h0.75M196.2 82.7h0.75M201.9 85.8h0.75M197.2 80.3h0.75M199.3 94.6h0.75M188.0 84.1h0.75M191.9 87.0h0.75M184.6 76.4h0.75M187.1 87.2h0.75M201.0 78.3h0.75M201.1 79.2h0.75M196.0 77.8h0.75M190.7 85.3h0.75M195.4 83.0h0.75M198.5 76.8h0.75M194.3 97.1h0.75M213.1 96.3h0.75M197.3 72.4h0.75M201.8 89.3h0.75M202.5 98.1h0.75M201.0 89.4h0.75M189.2 102.3h0.75M198.7 94.4h0.75M195.7 90.7h0.75M198.7 73.4h0.75M197.2 89.6h0.75M186.5 84.7h0.75M189.9 78.9h0.75M201.4 88.4h0.75M190.3 85.6h0.75M210.6 85.8h0.75M202.8 87.0h0.75M192.6 100.8h0.75M208.7 77.4h0.75M199.9 81.7h0.75M202.8 97.3h0.75M195.7 97.8h0.75M202.2 83.8h0.75M197.8 92.1h0.75M185.1 79.1h0.75M195.9 76.1h0.75M201.3 81.3h0.75M212.0 82.0h0.75M184.4 91.2h0.75M195.4 76.6h0.75M196.3 94.4h0.75M204.4 88.3h0.75M199.2 97.5h0.75M196.0 93.0h0.75M193.5 81.2h0.75M201.6 88.4h0.75M198.5 75.1h0.75M194.7 86.7h0.75M203.1 98.3h0.75M198.7 83.6h0.75M181.3 86.3h0.75M197.7 79.0h0.75M187.9 78.7h0.75M206.2 91.0h0.75M197.3 89.3h0.75M195.9 98.1h0.75M192.6 88.5h0.75M203.4 100.6h0.75M191.2 81.0h0.75M193.2 79.9h0.75M194.7 79.2h0.75M205.0 81.5h0.75M191.3 57.8h0.75M198.9 91.1h0.75M192.0 73.4h0.75M196.4 86.3h0.75M185.9 98.5h0.75M190.3 79.4h0.75M203.5 72.3h0.75M200.8 93.4h0.75M187.3 76.8h0.75M184.9 102.8h0.75M192.9 69.7h0.75M193.3 86.7h0.75M208.4 89.0h0.75M190.3 109.3h0.75M202.3 94.2h0.75M199.0 86.8h0.75M210.3 101.8h0.75M186.6 80.7h0.75M196.5 78.8h0.75M191.7 71.7h0.75M196.0 86.3h0.75M201.5 98.0h0.75M186.6 84.9h0.75M191.7 85.8h0.75M206.7 100.6h0.75M194.6 82.7h0.75M202.5 82.3h0.75M184.3 70.7h0.75M201.5 88.5h0.75M191.2 95.1h0.75M188.2 85.5h0.75M203.3 90.7h0.75M195.2 81.2h0.75M193.0 79.5h0.75M189.9 85.7h0.75M193.9 83.2h0.75M190.2 83.8h0.75M187.0 73.6h0.75M198.3 87.8h0.75M189.5 86.2h0.75M187.8 89.7h0.75M198.1 82.6h0.75M206.0 78.8h0.75M197.7 78.4h0.75M192.7 100.4h0.75M197.8 90.3h0.75M189.0 81.2h0.75M203.5 85.1h0.75M189.3 83.4h0.75M193.5 89.4h0.75M200.3 110.6h0.75M194.1 99.2h0.75M199.6 81.3h0.75" stroke="#000" stroke-width="0.75" fill="none" opacity="0.29"/>
<path d="M191.2 88.6h0.75M195.5 77.4h0.75M206.0 88.9h0.75M187.0 80.8h0.75M198.6 82.7h0.75M189.5 80.6h0.75M195.0 82.5h0.75M189.0 95.7h0.75M189.5 87.7h0.75M200.3 90.8h0.75M190.6 80.6h0.75M190.8 90.0h0.75M197.8 95.8h0.75M201.1 91.0h0.75M195.0 85.3h0.75M196.7 55.2h0.75M205.3 88.9h0.75M189.4 85.9h0.75M197.8 87.9h0.75M187.6 98.7h0.75M199.0 85.0h0.75M188.3 92.6h0.75M188.9 82.9h0.75M198.8 92.5h0.75M205.0 91.6h0.75M184.6 82.6h0.75M192.8 82.4h0.75M191.0 87.1h0.75M197.7 80.2h0.75M197.0 78.8h0.75M192.9 88.5h0.75M190.6 76.7h0.75M201.3 98.4h0.75M193.9 83.9h0.75M202.9 89.4h0.75M195.5 80.6h0.75M196.1 70.1h0.75M201.0 72.8h0.75M209.4 83.1h0.75M199.9 76.8h0.75M184.1 71.8h0.75M194.7 82.6h0.75M199.2 89.9h0.75M208.5 82.4h0.75M195.1 84.6h0.75M199.7 80.5h0.75M196.1 94.9h0.75M195.8 90.5h0.75M194.8 97.9h0.75M193.7 78.8h0.75M192.1 87.2h0.75M196.8 102.0h0.75M194.9 90.8h0.75M195.7 84.0h0.75M196.4 75.6h0.75M188.3 83.8h0.75M198.1 82.1h0.75M198.0 97.3h0.75M185.7 87.4h0.75M195.3 95.1h0.75M200.5 82.8h0.75M198.2 81.1h0.75M200.1 96.0h0.75M208.0 85.6h0.75M191.3 88.0h0.75M206.8 91.2h0.75M186.5 84.7h0.75M189.4 85.7h0.75M189.4 83.2h0.75M199.6 84.1h0.75M190.8 65.7h0.75M199.4 85.8h0.75M189.6 92.0h0.75M202.8 96.4h0.75M186.2 85.7h0.75M200.5 87.8h0.75M193.8 82.9h0.75M205.2 92.8h0.75M188.7 95.4h0.75M194.9 83.0h0.75M194.0 84.2h0.75M191.7 91.7h0.75M196.8 81.9h0.75M204.9 95.7h0.75M199.2 90.4h0.75M196.0 76.5h0.75M198.5 95.3h0.75M199.3 93.4h0.75M188.7 100.9h0.75M200.9 75.5h0.75M202.3 74.6h0.75M191.4 96.0h0.75M195.5 87.4h0.75M203.4 76.2h0.75M188.6 74.9h0.75M198.8 75.2h0.75M199.2 98.9h0.75M200.7 92.2h0.75M193.8 84.3h0.75M190.5 79.6h0.75M195.6 90.6h0.75M204.5 93.3h0.75M198.6 94.9h0.75M204.3 86.5h0.75M198.0 96.5h0.75M191.8 80.8h0.75M198.4 74.2h0.75M195.7 88.8h0.75M205.7 91.9h0.75M199.3 87.1h0.75M193.5 86.6h0.75M193.1 80.3h0.75M192.1 76.1h0.75M193.9 79.3h0.75M191.9 75.0h0.75M190.0 85.2h0.75M195.3 95.4h0.75M186.7 73.7h0.75M200.2 93.7h0.75M195.5 102.2h0.75M195.1 100.1h0.75M191.6 85.2h0.75M185.8 78.6h0.75M197.4 76.1h0.75M192.7 119.9h0.75M199.1 96.2h0.75M192.7 89.8h0.75M199.5 90.0h0.75M198.3 99.2h0.75M187.5 74.6h0.75M187.1 87.0h0.75M203.0 65.6h0.75M205.0 93.2h0.75M207.2 95.0h0.75M193.9 98.7h0.75M197.4 90.0h0.75M200.1 81.5h0.75M199.1 75.5h0.75M196.1 94.8h0.75M194.6 92.0h0.75M199.0 86.0h0.75M184.7 90.1h0.75M198.2 84.7h0.75M203.5 82.8h0.75M201.4 85.0h0.75M188.1 98.6h0.75M195.8 91.1h0.75M209.4 98.0h0.75M203.5 90.1h0.75M189.3 104.8h0.75M194.5 86.2h0.75M203.8 96.1h0.75M191.7 97.0h0.75M202.4 94.1h0.75M209.4 90.2h0.75M205.3 93.2h0.75M207.6 90.4h0.75M196.1 103.0h0.75M189.1 99.2h0.75M199.3 69.4h0.75M194.5 88.3h0.75M190.0 106.4h0.75M196.5 84.8h0.75M196.5 96.0h0.75M206.4 82.4h0.75M210.7 80.2h0.75M192.5 90.5h0.75M195.2 85.0h0.75M199.5 84.2h0.75M196.9 75.4h0.75M186.1 77.5h0.75M200.5 75.3h0.75M197.4 85.5h0.75M196.4 81.1h0.75M195.5 75.6h0.75M198.6 92.7h0.75M188.7 93.3h0.75M189.6 87.0h0.75M202.4 95.7h0.75M187.2 76.7h0.75M188.0 88.0h0.75M210.9 85.5h0.75M186.3 84.5h0.75M195.7 79.3h0.75M191.2 91.7h0.75M204.3 86.3h0.75M194.0 94.3h0.75M201.6 89.6h0.75M200.7 97.4h0.75M200.8 82.5h0.75M187.9 96.0h0.75M188.7 100.9h0.75M198.4 76.7h0.75M194.8 85.2h0.75M193.6 83.8h0.75M194.4 92.1h0.75M188.7 80.6h0.75M207.5 100.9h0.75M196.1 84.8h0.75M199.2 78.9h0.75M198.6 89.5h0.75M190.7 76.7h0.75M203.5 73.5h0.75M199.6 89.2h0.75M206.0 71.3h0.75M197.6 102.2h0.75M195.8 76.1h0.75M183.5 89.1h0.75M208.4 65.6h0.75M191.0 76.3h0.75M200.5 91.3h0.75M187.6 101.6h0.75M185.9 70.1h0.75M193.6 111.9h0.75M196.8 106.6h0.75M193.0 94.2h0.75M198.4 96.8h0.75M190.9 90.8h0.75M196.4 85.6h0.75M201.5 82.7h0.75M192.0 94.9h0.75M201.0 98.4h0.75M196.7 94.2h0.75M191.2 82.8h0.75M203.6 98.6h0.75M194.1 80.8h0.75M203.4 82.3h0.75M202.5 85.0h0.75M184.2 94.1h0.75M197.2 87.7h0.75M196.6 71.0h0.75M186.3 87.5h0.75M199.1 83.0h0.75M193.7 85.1h0.75M193.4 88.1h0.75M202.6 77.7h0.75M201.1 91.8h0.75M197.1 90.1h0.75M184.9 76.9h0.75M202.8 85.1h0.75M212.4 85.4h0.75M193.8 92.3h0.75M192.4 91.3h0.75M196.4 101.8h0.75M201.3 81.0h0.75M201.1 76.2h0.75M196.3 98.5h0.75M191.9 82.8h0.75M186.8 88.6h0.75M198.2 91.6h0.75M203.0 86.2h0.75M192.0 83.0h0.75M191.5 106.4h0.75M194.9 87.9h0.75M186.6 83.9h0.75M202.3 93.0h0.75M197.4 82.8h0.75M189.9 71.2h0.75M188.3 99.7h0.75M200.5 84.3h0.75M194.0 103.3h0.75M180.6 79.3h0.75M197.0 89.7h0.75M195.4 89.0h0.75" stroke="#000" stroke-width="0.75" fill="none" opacity="0.38"/>
<line x1="159.9" x2="259.5" y1="83.6" y2="83.6" stroke="#222" stroke-width="0.9"/>
<text class="se" x="206.2" y="24.9" font-size="11.2" font-weight="bold" text-anchor="middle" stroke="#000" stroke-width="0.2">Gated B220<tspan dy="-3.0" font-size="6.6">+</tspan></text>
<text class="sa" x="242.6" y="46.8" font-size="20.5" font-weight="bold" text-anchor="start" fill="#000" >ii</text>
<rect x="288.6" y="32.5" width="99.19999999999999" height="93.25" fill="none" stroke="#333" stroke-width="1"/>
<line x1="288.6" x2="290.6" y1="125.75" y2="125.75" stroke="#333" stroke-width="0.45"/>
<line x1="288.6" x2="289.8" y1="118.73" y2="118.73" stroke="#333" stroke-width="0.45"/>
<line x1="288.6" x2="289.8" y1="114.63" y2="114.63" stroke="#333" stroke-width="0.45"/>
<line x1="288.6" x2="289.8" y1="111.71" y2="111.71" stroke="#333" stroke-width="0.45"/>
<line x1="288.6" x2="289.8" y1="109.46" y2="109.46" stroke="#333" stroke-width="0.45"/>
<line x1="288.6" x2="289.8" y1="107.61" y2="107.61" stroke="#333" stroke-width="0.45"/>
<line x1="288.6" x2="289.8" y1="106.05" y2="106.05" stroke="#333" stroke-width="0.45"/>
<line x1="288.6" x2="289.8" y1="104.70" y2="104.70" stroke="#333" stroke-width="0.45"/>
<line x1="288.6" x2="289.8" y1="103.50" y2="103.50" stroke="#333" stroke-width="0.45"/>
<line x1="288.6" x2="290.6" y1="102.44" y2="102.44" stroke="#333" stroke-width="0.45"/>
<line x1="288.6" x2="289.8" y1="95.42" y2="95.42" stroke="#333" stroke-width="0.45"/>
<line x1="288.6" x2="289.8" y1="91.31" y2="91.31" stroke="#333" stroke-width="0.45"/>
<line x1="288.6" x2="289.8" y1="88.40" y2="88.40" stroke="#333" stroke-width="0.45"/>
<line x1="288.6" x2="289.8" y1="86.14" y2="86.14" stroke="#333" stroke-width="0.45"/>
<line x1="288.6" x2="289.8" y1="84.30" y2="84.30" stroke="#333" stroke-width="0.45"/>
<line x1="288.6" x2="289.8" y1="82.74" y2="82.74" stroke="#333" stroke-width="0.45"/>
<line x1="288.6" x2="289.8" y1="81.38" y2="81.38" stroke="#333" stroke-width="0.45"/>
<line x1="288.6" x2="289.8" y1="80.19" y2="80.19" stroke="#333" stroke-width="0.45"/>
<line x1="288.6" x2="290.6" y1="79.12" y2="79.12" stroke="#333" stroke-width="0.45"/>
<line x1="288.6" x2="289.8" y1="72.11" y2="72.11" stroke="#333" stroke-width="0.45"/>
<line x1="288.6" x2="289.8" y1="68.00" y2="68.00" stroke="#333" stroke-width="0.45"/>
<line x1="288.6" x2="289.8" y1="65.09" y2="65.09" stroke="#333" stroke-width="0.45"/>
<line x1="288.6" x2="289.8" y1="62.83" y2="62.83" stroke="#333" stroke-width="0.45"/>
<line x1="288.6" x2="289.8" y1="60.98" y2="60.98" stroke="#333" stroke-width="0.45"/>
<line x1="288.6" x2="289.8" y1="59.42" y2="59.42" stroke="#333" stroke-width="0.45"/>
<line x1="288.6" x2="289.8" y1="58.07" y2="58.07" stroke="#333" stroke-width="0.45"/>
<line x1="288.6" x2="289.8" y1="56.88" y2="56.88" stroke="#333" stroke-width="0.45"/>
<line x1="288.6" x2="290.6" y1="55.81" y2="55.81" stroke="#333" stroke-width="0.45"/>
<line x1="288.6" x2="289.8" y1="48.79" y2="48.79" stroke="#333" stroke-width="0.45"/>
<line x1="288.6" x2="289.8" y1="44.69" y2="44.69" stroke="#333" stroke-width="0.45"/>
<line x1="288.6" x2="289.8" y1="41.78" y2="41.78" stroke="#333" stroke-width="0.45"/>
<line x1="288.6" x2="289.8" y1="39.52" y2="39.52" stroke="#333" stroke-width="0.45"/>
<line x1="288.6" x2="289.8" y1="37.67" y2="37.67" stroke="#333" stroke-width="0.45"/>
<line x1="288.6" x2="289.8" y1="36.11" y2="36.11" stroke="#333" stroke-width="0.45"/>
<line x1="288.6" x2="289.8" y1="34.76" y2="34.76" stroke="#333" stroke-width="0.45"/>
<line x1="288.6" x2="289.8" y1="33.57" y2="33.57" stroke="#333" stroke-width="0.45"/>
<line x1="288.60" x2="288.60" y1="125.75" y2="127.65" stroke="#333" stroke-width="0.7"/>
<line x1="290.58" x2="290.58" y1="125.75" y2="124.55" stroke="#333" stroke-width="0.45"/>
<line x1="292.57" x2="292.57" y1="125.75" y2="124.55" stroke="#333" stroke-width="0.45"/>
<line x1="294.55" x2="294.55" y1="125.75" y2="124.55" stroke="#333" stroke-width="0.45"/>
<line x1="296.54" x2="296.54" y1="125.75" y2="124.55" stroke="#333" stroke-width="0.45"/>
<line x1="298.52" x2="298.52" y1="125.75" y2="124.55" stroke="#333" stroke-width="0.45"/>
<line x1="300.50" x2="300.50" y1="125.75" y2="124.55" stroke="#333" stroke-width="0.45"/>
<line x1="302.49" x2="302.49" y1="125.75" y2="124.55" stroke="#333" stroke-width="0.45"/>
<line x1="304.47" x2="304.47" y1="125.75" y2="124.55" stroke="#333" stroke-width="0.45"/>
<line x1="306.46" x2="306.46" y1="125.75" y2="124.55" stroke="#333" stroke-width="0.45"/>
<line x1="308.44" x2="308.44" y1="125.75" y2="127.65" stroke="#333" stroke-width="0.7"/>
<line x1="310.42" x2="310.42" y1="125.75" y2="124.55" stroke="#333" stroke-width="0.45"/>
<line x1="312.41" x2="312.41" y1="125.75" y2="124.55" stroke="#333" stroke-width="0.45"/>
<line x1="314.39" x2="314.39" y1="125.75" y2="124.55" stroke="#333" stroke-width="0.45"/>
<line x1="316.38" x2="316.38" y1="125.75" y2="124.55" stroke="#333" stroke-width="0.45"/>
<line x1="318.36" x2="318.36" y1="125.75" y2="124.55" stroke="#333" stroke-width="0.45"/>
<line x1="320.34" x2="320.34" y1="125.75" y2="124.55" stroke="#333" stroke-width="0.45"/>
<line x1="322.33" x2="322.33" y1="125.75" y2="124.55" stroke="#333" stroke-width="0.45"/>
<line x1="324.31" x2="324.31" y1="125.75" y2="124.55" stroke="#333" stroke-width="0.45"/>
<line x1="326.30" x2="326.30" y1="125.75" y2="124.55" stroke="#333" stroke-width="0.45"/>
<line x1="328.28" x2="328.28" y1="125.75" y2="127.65" stroke="#333" stroke-width="0.7"/>
<line x1="330.26" x2="330.26" y1="125.75" y2="124.55" stroke="#333" stroke-width="0.45"/>
<line x1="332.25" x2="332.25" y1="125.75" y2="124.55" stroke="#333" stroke-width="0.45"/>
<line x1="334.23" x2="334.23" y1="125.75" y2="124.55" stroke="#333" stroke-width="0.45"/>
<line x1="336.22" x2="336.22" y1="125.75" y2="124.55" stroke="#333" stroke-width="0.45"/>
<line x1="338.20" x2="338.20" y1="125.75" y2="124.55" stroke="#333" stroke-width="0.45"/>
<line x1="340.18" x2="340.18" y1="125.75" y2="124.55" stroke="#333" stroke-width="0.45"/>
<line x1="342.17" x2="342.17" y1="125.75" y2="124.55" stroke="#333" stroke-width="0.45"/>
<line x1="344.15" x2="344.15" y1="125.75" y2="124.55" stroke="#333" stroke-width="0.45"/>
<line x1="346.14" x2="346.14" y1="125.75" y2="124.55" stroke="#333" stroke-width="0.45"/>
<line x1="348.12" x2="348.12" y1="125.75" y2="127.65" stroke="#333" stroke-width="0.7"/>
<line x1="350.10" x2="350.10" y1="125.75" y2="124.55" stroke="#333" stroke-width="0.45"/>
<line x1="352.09" x2="352.09" y1="125.75" y2="124.55" stroke="#333" stroke-width="0.45"/>
<line x1="354.07" x2="354.07" y1="125.75" y2="124.55" stroke="#333" stroke-width="0.45"/>
<line x1="356.06" x2="356.06" y1="125.75" y2="124.55" stroke="#333" stroke-width="0.45"/>
<line x1="358.04" x2="358.04" y1="125.75" y2="124.55" stroke="#333" stroke-width="0.45"/>
<line x1="360.02" x2="360.02" y1="125.75" y2="124.55" stroke="#333" stroke-width="0.45"/>
<line x1="362.01" x2="362.01" y1="125.75" y2="124.55" stroke="#333" stroke-width="0.45"/>
<line x1="363.99" x2="363.99" y1="125.75" y2="124.55" stroke="#333" stroke-width="0.45"/>
<line x1="365.98" x2="365.98" y1="125.75" y2="124.55" stroke="#333" stroke-width="0.45"/>
<line x1="367.96" x2="367.96" y1="125.75" y2="127.65" stroke="#333" stroke-width="0.7"/>
<line x1="369.94" x2="369.94" y1="125.75" y2="124.55" stroke="#333" stroke-width="0.45"/>
<line x1="371.93" x2="371.93" y1="125.75" y2="124.55" stroke="#333" stroke-width="0.45"/>
<line x1="373.91" x2="373.91" y1="125.75" y2="124.55" stroke="#333" stroke-width="0.45"/>
<line x1="375.90" x2="375.90" y1="125.75" y2="124.55" stroke="#333" stroke-width="0.45"/>
<line x1="377.88" x2="377.88" y1="125.75" y2="124.55" stroke="#333" stroke-width="0.45"/>
<line x1="379.86" x2="379.86" y1="125.75" y2="124.55" stroke="#333" stroke-width="0.45"/>
<line x1="381.85" x2="381.85" y1="125.75" y2="124.55" stroke="#333" stroke-width="0.45"/>
<line x1="383.83" x2="383.83" y1="125.75" y2="124.55" stroke="#333" stroke-width="0.45"/>
<line x1="385.82" x2="385.82" y1="125.75" y2="124.55" stroke="#333" stroke-width="0.45"/>
<line x1="387.80" x2="387.80" y1="125.75" y2="127.65" stroke="#333" stroke-width="0.7"/>
<text class="sa" transform="translate(285.40000000000003 124.2) rotate(-90) scale(1.12 1)" font-size="5.4" text-anchor="middle" fill="#222" stroke="#222" stroke-width="0.25">10<tspan dy="-2.70" font-size="4.43">0</tspan></text>
<text class="sa" transform="translate(285.40000000000003 101.6) rotate(-90) scale(1.12 1)" font-size="5.4" text-anchor="middle" fill="#222" stroke="#222" stroke-width="0.25">10<tspan dy="-2.70" font-size="4.43">1</tspan></text>
<text class="sa" transform="translate(285.40000000000003 79.0) rotate(-90) scale(1.12 1)" font-size="5.4" text-anchor="middle" fill="#222" stroke="#222" stroke-width="0.25">10<tspan dy="-2.70" font-size="4.43">2</tspan></text>
<text class="sa" transform="translate(285.40000000000003 55.4) rotate(-90) scale(1.12 1)" font-size="5.4" text-anchor="middle" fill="#222" stroke="#222" stroke-width="0.25">10<tspan dy="-2.70" font-size="4.43">3</tspan></text>
<text class="sa" transform="translate(285.40000000000003 31.5) rotate(-90) scale(1.12 1)" font-size="5.4" text-anchor="middle" fill="#222" stroke="#222" stroke-width="0.25">10<tspan dy="-2.70" font-size="4.43">4</tspan></text>
<text class="sa" x="289.75" y="133.05" font-size="5.6" font-weight="bold" text-anchor="middle" fill="#222" >0</text>
<text class="sa" x="308.75" y="133.05" font-size="5.6" font-weight="bold" text-anchor="middle" fill="#222" >200</text>
<text class="sa" x="328.35" y="133.05" font-size="5.6" font-weight="bold" text-anchor="middle" fill="#222" >400</text>
<text class="sa" x="347.5" y="133.05" font-size="5.6" font-weight="bold" text-anchor="middle" fill="#222" >600</text>
<text class="sa" x="366.65000000000003" y="133.05" font-size="5.6" font-weight="bold" text-anchor="middle" fill="#222" >800</text>
<text class="sa" x="386.0" y="133.05" font-size="5.6" font-weight="bold" text-anchor="middle" fill="#222" >1000</text>
<path d="M326.0 89.0h0.9M332.5 109.6h0.9M324.6 81.1h0.9M332.0 86.4h0.9M338.8 85.5h0.9M337.3 87.8h0.9M320.3 96.4h0.9M312.3 86.1h0.9M324.7 91.2h0.9M331.1 101.7h0.9M323.5 90.5h0.9M318.3 85.9h0.9M317.2 86.1h0.9M335.7 90.7h0.9M330.2 85.7h0.9M339.7 91.2h0.9M318.6 80.6h0.9M324.7 88.5h0.9M324.6 83.1h0.9M315.7 87.7h0.9M328.4 86.8h0.9M340.7 92.3h0.9M330.3 87.0h0.9M331.8 84.9h0.9M338.2 87.0h0.9M325.4 85.4h0.9M334.5 75.5h0.9M334.2 83.0h0.9M342.8 78.0h0.9M336.4 84.7h0.9M316.5 87.6h0.9M334.3 81.7h0.9M333.5 88.0h0.9M337.1 83.7h0.9M324.7 96.6h0.9M312.3 86.7h0.9M316.4 79.2h0.9M321.7 82.7h0.9M324.5 76.5h0.9M321.8 92.0h0.9M313.8 92.0h0.9M336.2 86.6h0.9M312.3 89.1h0.9M333.2 85.1h0.9M314.3 84.7h0.9M332.9 107.0h0.9M323.4 85.7h0.9M327.1 83.2h0.9M326.8 81.9h0.9M340.4 86.1h0.9M329.5 65.4h0.9M341.3 85.9h0.9M330.3 90.1h0.9M326.4 97.0h0.9M341.4 88.3h0.9M313.7 85.8h0.9M328.0 85.5h0.9M323.3 83.0h0.9M323.6 96.0h0.9M326.7 77.2h0.9M319.6 84.9h0.9M327.0 74.8h0.9M316.9 95.5h0.9M341.9 79.8h0.9M326.1 83.1h0.9M317.7 98.4h0.9M320.5 87.1h0.9M319.1 88.6h0.9M321.5 91.4h0.9M322.5 67.7h0.9M339.0 87.9h0.9M339.7 85.2h0.9M328.2 85.4h0.9M329.3 93.5h0.9M341.5 89.1h0.9M327.7 86.7h0.9M315.5 87.7h0.9M322.8 86.5h0.9M312.2 84.8h0.9M341.1 88.2h0.9M316.6 87.4h0.9M336.4 86.9h0.9M312.9 86.1h0.9M332.1 80.5h0.9M340.4 85.1h0.9M326.0 79.0h0.9M317.7 84.8h0.9M320.5 86.6h0.9M343.5 88.3h0.9M313.9 83.1h0.9M325.8 91.5h0.9M336.9 85.5h0.9M318.9 83.1h0.9M318.3 86.7h0.9M325.5 87.3h0.9M324.3 90.4h0.9M333.9 93.8h0.9M330.5 105.8h0.9M325.0 86.0h0.9M322.5 87.8h0.9M323.9 77.5h0.9M339.8 85.8h0.9M334.2 80.3h0.9M326.8 88.4h0.9M329.7 107.4h0.9M340.4 87.7h0.9M326.2 86.3h0.9M313.9 88.6h0.9M322.2 74.1h0.9M319.4 84.3h0.9M339.7 90.8h0.9M327.8 86.7h0.9M335.2 87.3h0.9M320.6 87.3h0.9M339.9 88.0h0.9M317.0 85.4h0.9" stroke="#000" stroke-width="0.9" fill="none" opacity="0.30"/>
<path d="M335.9 72.3h0.9M315.4 92.1h0.9M334.7 58.8h0.9M322.7 95.0h0.9M338.2 87.8h0.9M337.7 80.5h0.9M311.7 88.1h0.9M332.4 87.6h0.9M328.1 86.8h0.9M331.9 89.6h0.9M326.8 86.1h0.9M328.7 89.4h0.9M325.3 88.6h0.9M335.6 74.7h0.9M340.3 83.4h0.9M313.4 87.3h0.9M343.1 80.5h0.9M328.9 85.5h0.9M317.7 85.1h0.9M319.1 87.4h0.9M332.1 82.0h0.9M329.5 96.6h0.9M313.2 89.6h0.9M340.5 87.6h0.9M331.5 111.8h0.9M339.0 85.2h0.9M319.6 89.4h0.9M335.6 94.4h0.9M340.1 88.5h0.9M326.7 73.0h0.9M323.3 84.4h0.9M315.3 89.3h0.9M336.3 90.2h0.9M338.5 88.8h0.9M323.9 86.5h0.9M318.2 72.9h0.9M327.5 84.1h0.9M328.8 77.1h0.9M320.5 87.2h0.9M322.5 85.7h0.9M323.1 77.8h0.9M333.9 90.6h0.9M322.6 74.8h0.9M320.0 75.9h0.9M331.6 81.6h0.9M339.1 84.0h0.9M323.8 84.8h0.9M338.1 87.1h0.9M315.2 88.3h0.9M315.1 85.6h0.9M330.2 70.5h0.9M335.1 75.3h0.9M333.7 87.7h0.9M335.5 86.9h0.9M318.8 78.9h0.9M339.7 100.6h0.9M323.0 80.5h0.9M326.5 84.2h0.9M337.1 86.0h0.9M318.7 86.3h0.9M319.6 91.5h0.9M336.8 88.1h0.9M338.7 76.3h0.9M327.0 84.6h0.9M338.2 85.7h0.9M327.3 89.3h0.9M315.2 84.0h0.9M314.3 88.1h0.9M330.9 70.4h0.9M333.1 88.0h0.9M311.7 89.6h0.9M327.7 87.4h0.9M318.8 83.8h0.9M333.3 86.0h0.9M331.5 104.0h0.9M313.0 85.8h0.9M316.1 86.7h0.9M323.2 88.0h0.9M316.7 88.6h0.9M314.9 89.2h0.9M314.9 87.9h0.9M331.3 109.7h0.9M316.8 96.4h0.9M338.9 88.8h0.9M315.9 93.8h0.9M322.0 88.4h0.9M324.3 77.9h0.9M325.9 79.1h0.9M324.4 97.1h0.9M324.8 85.6h0.9M313.2 86.1h0.9M330.6 83.8h0.9M339.3 86.7h0.9M316.5 86.6h0.9M322.8 86.3h0.9M326.8 75.8h0.9M333.1 88.4h0.9M338.1 84.8h0.9M317.5 86.9h0.9" stroke="#000" stroke-width="0.9" fill="none" opacity="0.43"/>
<path d="M319.6 86.1h0.9M337.7 88.0h0.9M342.7 80.0h0.9M318.1 88.2h0.9M340.1 84.5h0.9M316.2 87.7h0.9M330.1 90.4h0.9M337.7 86.2h0.9M331.1 79.5h0.9M323.3 79.7h0.9M328.6 78.0h0.9M324.0 74.3h0.9M323.4 87.5h0.9M315.6 88.6h0.9M340.0 77.3h0.9M338.4 82.0h0.9M317.3 74.8h0.9M320.1 85.6h0.9M317.4 85.7h0.9M317.0 89.3h0.9M335.5 107.8h0.9M322.4 85.1h0.9M329.7 84.7h0.9M327.9 86.6h0.9M336.1 86.5h0.9M329.3 105.2h0.9M326.6 94.3h0.9M330.8 102.9h0.9M321.6 91.7h0.9M326.5 88.1h0.9M316.5 86.3h0.9M340.9 81.6h0.9M321.3 85.5h0.9M336.8 86.3h0.9M330.0 85.7h0.9M315.9 84.5h0.9M320.8 97.1h0.9M326.2 94.1h0.9M328.0 89.2h0.9M331.9 86.3h0.9M330.2 108.2h0.9M320.0 82.4h0.9M324.2 84.4h0.9M315.4 88.7h0.9M317.3 98.7h0.9M339.1 83.5h0.9M325.1 66.3h0.9M334.2 78.6h0.9M324.1 85.9h0.9M338.0 87.2h0.9M328.6 77.0h0.9M336.2 85.5h0.9M325.1 87.0h0.9M321.3 90.1h0.9M339.4 90.0h0.9M325.7 84.5h0.9M309.6 92.7h0.9M340.4 83.5h0.9M333.8 79.3h0.9M323.6 80.5h0.9M327.3 84.3h0.9M311.6 86.7h0.9M339.3 90.4h0.9M322.2 92.4h0.9M329.1 88.3h0.9M334.1 79.1h0.9M332.8 110.4h0.9M311.8 84.7h0.9M335.6 73.0h0.9M338.0 85.6h0.9M339.5 82.9h0.9M315.5 95.2h0.9M321.6 85.1h0.9M324.8 92.1h0.9M313.0 83.8h0.9M332.5 106.6h0.9M332.6 83.6h0.9M321.2 90.1h0.9M329.2 95.1h0.9M336.2 81.0h0.9M328.3 89.4h0.9M317.6 78.4h0.9M321.3 70.6h0.9M328.6 88.7h0.9M318.2 86.2h0.9M320.5 86.8h0.9M325.4 90.2h0.9M316.9 88.6h0.9M321.8 85.7h0.9M322.1 85.5h0.9M331.4 89.9h0.9M315.5 85.5h0.9M322.6 88.4h0.9M337.4 87.8h0.9M333.8 91.1h0.9M324.6 83.8h0.9M335.8 88.7h0.9M333.3 105.4h0.9M323.0 86.2h0.9M336.0 85.0h0.9M317.9 87.4h0.9M333.5 82.4h0.9M335.3 90.7h0.9" stroke="#000" stroke-width="0.9" fill="none" opacity="0.57"/>
<path d="M335.9 86.7h0.9M327.5 76.0h0.9M319.3 79.3h0.9M315.8 94.6h0.9M329.4 83.0h0.9M339.5 83.6h0.9M315.0 87.1h0.9M329.6 86.6h0.9M336.3 72.2h0.9M312.0 91.5h0.9M319.3 97.4h0.9M331.4 87.4h0.9M326.8 86.8h0.9M320.1 96.1h0.9M342.7 80.1h0.9M329.5 85.9h0.9M329.3 88.7h0.9M327.7 103.9h0.9M324.9 86.5h0.9M329.1 84.3h0.9M333.8 79.4h0.9M329.6 99.2h0.9M327.9 87.0h0.9M335.9 85.4h0.9M319.2 88.7h0.9M313.3 85.5h0.9M322.4 86.7h0.9M323.5 87.7h0.9M321.9 81.1h0.9M332.0 85.5h0.9M338.7 87.4h0.9M315.7 84.9h0.9M338.5 81.9h0.9M334.7 93.4h0.9M337.5 85.8h0.9M320.4 88.9h0.9M329.5 92.8h0.9M332.8 94.5h0.9M311.5 85.9h0.9M322.1 88.4h0.9M320.6 88.8h0.9M328.5 107.1h0.9M315.4 91.4h0.9M323.8 87.8h0.9M330.3 89.1h0.9M339.8 90.4h0.9M325.8 95.9h0.9M324.1 94.1h0.9M323.7 88.5h0.9M335.1 85.8h0.9M318.3 88.7h0.9M320.4 87.7h0.9M316.1 83.4h0.9M331.0 84.0h0.9M315.5 85.5h0.9M327.3 95.2h0.9M327.3 88.1h0.9M333.9 83.8h0.9M334.3 83.7h0.9M323.7 88.0h0.9M325.2 85.3h0.9M321.5 89.9h0.9M324.2 84.1h0.9M317.7 80.5h0.9M329.3 111.3h0.9M319.1 92.9h0.9M326.7 88.3h0.9M320.6 77.7h0.9M336.7 84.7h0.9M328.0 85.7h0.9M322.7 87.8h0.9M328.5 89.7h0.9M324.8 87.7h0.9M333.2 93.1h0.9M315.7 82.8h0.9M324.1 84.1h0.9M325.1 92.3h0.9M324.9 79.0h0.9M336.0 78.3h0.9M338.0 80.8h0.9M321.3 88.2h0.9M321.6 85.3h0.9M329.8 85.0h0.9M337.0 84.3h0.9M332.6 88.9h0.9M327.1 88.3h0.9M336.5 84.0h0.9M325.9 88.1h0.9M335.3 84.8h0.9M312.2 86.4h0.9M335.7 82.0h0.9M318.3 88.4h0.9M325.4 95.3h0.9M323.8 86.9h0.9M326.9 74.0h0.9M329.8 80.2h0.9M330.2 106.6h0.9M339.7 84.7h0.9M339.1 88.4h0.9M328.2 77.0h0.9M320.3 77.2h0.9M333.4 73.5h0.9M321.9 88.8h0.9M325.6 85.6h0.9M323.7 84.1h0.9" stroke="#000" stroke-width="0.9" fill="none" opacity="0.70"/>
<line x1="288.6" x2="387.8" y1="85.4" y2="85.4" stroke="#222" stroke-width="0.9"/>
<text class="se" x="338.8" y="25.9" font-size="11.2" font-weight="bold" text-anchor="middle" stroke="#000" stroke-width="0.2">Gated CD4<tspan dy="-3.0" font-size="6.6">+</tspan></text>
<text class="sa" x="367.1" y="49.9" font-size="20.5" font-weight="bold" text-anchor="start" fill="#000" >iii</text>
<rect x="414.3" y="32.2" width="101.69999999999999" height="93.8" fill="none" stroke="#555" stroke-width="1"/>
<line x1="414.3" x2="416.3" y1="126.00" y2="126.00" stroke="#333" stroke-width="0.45"/>
<line x1="414.3" x2="415.5" y1="118.94" y2="118.94" stroke="#333" stroke-width="0.45"/>
<line x1="414.3" x2="415.5" y1="114.81" y2="114.81" stroke="#333" stroke-width="0.45"/>
<line x1="414.3" x2="415.5" y1="111.88" y2="111.88" stroke="#333" stroke-width="0.45"/>
<line x1="414.3" x2="415.5" y1="109.61" y2="109.61" stroke="#333" stroke-width="0.45"/>
<line x1="414.3" x2="415.5" y1="107.75" y2="107.75" stroke="#333" stroke-width="0.45"/>
<line x1="414.3" x2="415.5" y1="106.18" y2="106.18" stroke="#333" stroke-width="0.45"/>
<line x1="414.3" x2="415.5" y1="104.82" y2="104.82" stroke="#333" stroke-width="0.45"/>
<line x1="414.3" x2="415.5" y1="103.62" y2="103.62" stroke="#333" stroke-width="0.45"/>
<line x1="414.3" x2="416.3" y1="102.55" y2="102.55" stroke="#333" stroke-width="0.45"/>
<line x1="414.3" x2="415.5" y1="95.49" y2="95.49" stroke="#333" stroke-width="0.45"/>
<line x1="414.3" x2="415.5" y1="91.36" y2="91.36" stroke="#333" stroke-width="0.45"/>
<line x1="414.3" x2="415.5" y1="88.43" y2="88.43" stroke="#333" stroke-width="0.45"/>
<line x1="414.3" x2="415.5" y1="86.16" y2="86.16" stroke="#333" stroke-width="0.45"/>
<line x1="414.3" x2="415.5" y1="84.30" y2="84.30" stroke="#333" stroke-width="0.45"/>
<line x1="414.3" x2="415.5" y1="82.73" y2="82.73" stroke="#333" stroke-width="0.45"/>
<line x1="414.3" x2="415.5" y1="81.37" y2="81.37" stroke="#333" stroke-width="0.45"/>
<line x1="414.3" x2="415.5" y1="80.17" y2="80.17" stroke="#333" stroke-width="0.45"/>
<line x1="414.3" x2="416.3" y1="79.10" y2="79.10" stroke="#333" stroke-width="0.45"/>
<line x1="414.3" x2="415.5" y1="72.04" y2="72.04" stroke="#333" stroke-width="0.45"/>
<line x1="414.3" x2="415.5" y1="67.91" y2="67.91" stroke="#333" stroke-width="0.45"/>
<line x1="414.3" x2="415.5" y1="64.98" y2="64.98" stroke="#333" stroke-width="0.45"/>
<line x1="414.3" x2="415.5" y1="62.71" y2="62.71" stroke="#333" stroke-width="0.45"/>
<line x1="414.3" x2="415.5" y1="60.85" y2="60.85" stroke="#333" stroke-width="0.45"/>
<line x1="414.3" x2="415.5" y1="59.28" y2="59.28" stroke="#333" stroke-width="0.45"/>
<line x1="414.3" x2="415.5" y1="57.92" y2="57.92" stroke="#333" stroke-width="0.45"/>
<line x1="414.3" x2="415.5" y1="56.72" y2="56.72" stroke="#333" stroke-width="0.45"/>
<line x1="414.3" x2="416.3" y1="55.65" y2="55.65" stroke="#333" stroke-width="0.45"/>
<line x1="414.3" x2="415.5" y1="48.59" y2="48.59" stroke="#333" stroke-width="0.45"/>
<line x1="414.3" x2="415.5" y1="44.46" y2="44.46" stroke="#333" stroke-width="0.45"/>
<line x1="414.3" x2="415.5" y1="41.53" y2="41.53" stroke="#333" stroke-width="0.45"/>
<line x1="414.3" x2="415.5" y1="39.26" y2="39.26" stroke="#333" stroke-width="0.45"/>
<line x1="414.3" x2="415.5" y1="37.40" y2="37.40" stroke="#333" stroke-width="0.45"/>
<line x1="414.3" x2="415.5" y1="35.83" y2="35.83" stroke="#333" stroke-width="0.45"/>
<line x1="414.3" x2="415.5" y1="34.47" y2="34.47" stroke="#333" stroke-width="0.45"/>
<line x1="414.3" x2="415.5" y1="33.27" y2="33.27" stroke="#333" stroke-width="0.45"/>
<line x1="414.30" x2="414.30" y1="126.0" y2="127.9" stroke="#333" stroke-width="0.7"/>
<line x1="416.33" x2="416.33" y1="126.0" y2="124.8" stroke="#333" stroke-width="0.45"/>
<line x1="418.37" x2="418.37" y1="126.0" y2="124.8" stroke="#333" stroke-width="0.45"/>
<line x1="420.40" x2="420.40" y1="126.0" y2="124.8" stroke="#333" stroke-width="0.45"/>
<line x1="422.44" x2="422.44" y1="126.0" y2="124.8" stroke="#333" stroke-width="0.45"/>
<line x1="424.47" x2="424.47" y1="126.0" y2="124.8" stroke="#333" stroke-width="0.45"/>
<line x1="426.50" x2="426.50" y1="126.0" y2="124.8" stroke="#333" stroke-width="0.45"/>
<line x1="428.54" x2="428.54" y1="126.0" y2="124.8" stroke="#333" stroke-width="0.45"/>
<line x1="430.57" x2="430.57" y1="126.0" y2="124.8" stroke="#333" stroke-width="0.45"/>
<line x1="432.61" x2="432.61" y1="126.0" y2="124.8" stroke="#333" stroke-width="0.45"/>
<line x1="434.64" x2="434.64" y1="126.0" y2="127.9" stroke="#333" stroke-width="0.7"/>
<line x1="436.67" x2="436.67" y1="126.0" y2="124.8" stroke="#333" stroke-width="0.45"/>
<line x1="438.71" x2="438.71" y1="126.0" y2="124.8" stroke="#333" stroke-width="0.45"/>
<line x1="440.74" x2="440.74" y1="126.0" y2="124.8" stroke="#333" stroke-width="0.45"/>
<line x1="442.78" x2="442.78" y1="126.0" y2="124.8" stroke="#333" stroke-width="0.45"/>
<line x1="444.81" x2="444.81" y1="126.0" y2="124.8" stroke="#333" stroke-width="0.45"/>
<line x1="446.84" x2="446.84" y1="126.0" y2="124.8" stroke="#333" stroke-width="0.45"/>
<line x1="448.88" x2="448.88" y1="126.0" y2="124.8" stroke="#333" stroke-width="0.45"/>
<line x1="450.91" x2="450.91" y1="126.0" y2="124.8" stroke="#333" stroke-width="0.45"/>
<line x1="452.95" x2="452.95" y1="126.0" y2="124.8" stroke="#333" stroke-width="0.45"/>
<line x1="454.98" x2="454.98" y1="126.0" y2="127.9" stroke="#333" stroke-width="0.7"/>
<line x1="457.01" x2="457.01" y1="126.0" y2="124.8" stroke="#333" stroke-width="0.45"/>
<line x1="459.05" x2="459.05" y1="126.0" y2="124.8" stroke="#333" stroke-width="0.45"/>
<line x1="461.08" x2="461.08" y1="126.0" y2="124.8" stroke="#333" stroke-width="0.45"/>
<line x1="463.12" x2="463.12" y1="126.0" y2="124.8" stroke="#333" stroke-width="0.45"/>
<line x1="465.15" x2="465.15" y1="126.0" y2="124.8" stroke="#333" stroke-width="0.45"/>
<line x1="467.18" x2="467.18" y1="126.0" y2="124.8" stroke="#333" stroke-width="0.45"/>
<line x1="469.22" x2="469.22" y1="126.0" y2="124.8" stroke="#333" stroke-width="0.45"/>
<line x1="471.25" x2="471.25" y1="126.0" y2="124.8" stroke="#333" stroke-width="0.45"/>
<line x1="473.29" x2="473.29" y1="126.0" y2="124.8" stroke="#333" stroke-width="0.45"/>
<line x1="475.32" x2="475.32" y1="126.0" y2="127.9" stroke="#333" stroke-width="0.7"/>
<line x1="477.35" x2="477.35" y1="126.0" y2="124.8" stroke="#333" stroke-width="0.45"/>
<line x1="479.39" x2="479.39" y1="126.0" y2="124.8" stroke="#333" stroke-width="0.45"/>
<line x1="481.42" x2="481.42" y1="126.0" y2="124.8" stroke="#333" stroke-width="0.45"/>
<line x1="483.46" x2="483.46" y1="126.0" y2="124.8" stroke="#333" stroke-width="0.45"/>
<line x1="485.49" x2="485.49" y1="126.0" y2="124.8" stroke="#333" stroke-width="0.45"/>
<line x1="487.52" x2="487.52" y1="126.0" y2="124.8" stroke="#333" stroke-width="0.45"/>
<line x1="489.56" x2="489.56" y1="126.0" y2="124.8" stroke="#333" stroke-width="0.45"/>
<line x1="491.59" x2="491.59" y1="126.0" y2="124.8" stroke="#333" stroke-width="0.45"/>
<line x1="493.63" x2="493.63" y1="126.0" y2="124.8" stroke="#333" stroke-width="0.45"/>
<line x1="495.66" x2="495.66" y1="126.0" y2="127.9" stroke="#333" stroke-width="0.7"/>
<line x1="497.69" x2="497.69" y1="126.0" y2="124.8" stroke="#333" stroke-width="0.45"/>
<line x1="499.73" x2="499.73" y1="126.0" y2="124.8" stroke="#333" stroke-width="0.45"/>
<line x1="501.76" x2="501.76" y1="126.0" y2="124.8" stroke="#333" stroke-width="0.45"/>
<line x1="503.80" x2="503.80" y1="126.0" y2="124.8" stroke="#333" stroke-width="0.45"/>
<line x1="505.83" x2="505.83" y1="126.0" y2="124.8" stroke="#333" stroke-width="0.45"/>
<line x1="507.86" x2="507.86" y1="126.0" y2="124.8" stroke="#333" stroke-width="0.45"/>
<line x1="509.90" x2="509.90" y1="126.0" y2="124.8" stroke="#333" stroke-width="0.45"/>
<line x1="511.93" x2="511.93" y1="126.0" y2="124.8" stroke="#333" stroke-width="0.45"/>
<line x1="513.97" x2="513.97" y1="126.0" y2="124.8" stroke="#333" stroke-width="0.45"/>
<line x1="516.00" x2="516.00" y1="126.0" y2="127.9" stroke="#333" stroke-width="0.7"/>
<text class="sa" transform="translate(411.1 124.4) rotate(-90) scale(1.12 1)" font-size="5.4" text-anchor="middle" fill="#222" stroke="#222" stroke-width="0.25">10<tspan dy="-2.70" font-size="4.43">0</tspan></text>
<text class="sa" transform="translate(411.1 102.0) rotate(-90) scale(1.12 1)" font-size="5.4" text-anchor="middle" fill="#222" stroke="#222" stroke-width="0.25">10<tspan dy="-2.70" font-size="4.43">1</tspan></text>
<text class="sa" transform="translate(411.1 78.5) rotate(-90) scale(1.12 1)" font-size="5.4" text-anchor="middle" fill="#222" stroke="#222" stroke-width="0.25">10<tspan dy="-2.70" font-size="4.43">2</tspan></text>
<text class="sa" transform="translate(411.1 55.0) rotate(-90) scale(1.12 1)" font-size="5.4" text-anchor="middle" fill="#222" stroke="#222" stroke-width="0.25">10<tspan dy="-2.70" font-size="4.43">3</tspan></text>
<text class="sa" transform="translate(411.1 31.5) rotate(-90) scale(1.12 1)" font-size="5.4" text-anchor="middle" fill="#222" stroke="#222" stroke-width="0.25">10<tspan dy="-2.70" font-size="4.43">4</tspan></text>
<text class="sa" x="415.3" y="133.3" font-size="5.6" font-weight="bold" text-anchor="middle" fill="#222" >0</text>
<text class="sa" x="434.40000000000003" y="133.3" font-size="5.6" font-weight="bold" text-anchor="middle" fill="#222" >200</text>
<text class="sa" x="454.45" y="133.3" font-size="5.6" font-weight="bold" text-anchor="middle" fill="#222" >400</text>
<text class="sa" x="473.90000000000003" y="133.3" font-size="5.6" font-weight="bold" text-anchor="middle" fill="#222" >600</text>
<text class="sa" x="494.0" y="133.3" font-size="5.6" font-weight="bold" text-anchor="middle" fill="#222" >800</text>
<text class="sa" x="513.8" y="133.3" font-size="5.6" font-weight="bold" text-anchor="middle" fill="#222" >1000</text>
<path d="M448.0 94.8h0.9M457.4 83.5h0.9M445.5 95.7h0.9M452.6 96.6h0.9M458.2 82.8h0.9M471.2 96.4h0.9M455.2 83.0h0.9M449.0 90.4h0.9M449.5 97.2h0.9M464.0 90.9h0.9M457.5 92.3h0.9M452.2 71.0h0.9M466.8 88.2h0.9M461.4 94.8h0.9M456.2 85.5h0.9M440.6 91.2h0.9M453.5 93.2h0.9M452.9 81.9h0.9M457.9 64.4h0.9M447.6 96.1h0.9M451.8 90.9h0.9M446.9 82.3h0.9M462.5 97.4h0.9M460.2 90.3h0.9M438.3 84.9h0.9M444.6 79.4h0.9M447.2 107.2h0.9M455.7 95.0h0.9M448.2 81.6h0.9M450.3 94.3h0.9M454.7 86.3h0.9M446.6 89.4h0.9M455.0 80.5h0.9M451.2 77.4h0.9M439.4 95.0h0.9M453.9 86.8h0.9M456.7 84.3h0.9M460.4 95.9h0.9M454.4 91.6h0.9M453.9 89.9h0.9M442.0 82.3h0.9M451.2 88.7h0.9M449.1 86.7h0.9M446.2 83.8h0.9M449.0 86.6h0.9M441.6 86.8h0.9M450.8 104.2h0.9M456.1 93.0h0.9M469.4 96.5h0.9M455.9 59.2h0.9M445.4 84.6h0.9M453.1 84.9h0.9M443.8 105.1h0.9M460.3 124.0h0.9M469.3 89.7h0.9M457.5 91.0h0.9M456.9 99.8h0.9M470.1 91.1h0.9M453.1 90.5h0.9M461.6 94.1h0.9M454.7 89.9h0.9M445.1 89.7h0.9M467.5 89.0h0.9M452.7 96.6h0.9M439.0 68.8h0.9M454.5 95.7h0.9M453.8 85.3h0.9M456.4 85.1h0.9M453.0 85.0h0.9M448.7 82.7h0.9M456.5 77.4h0.9M452.4 92.6h0.9M456.4 104.3h0.9M454.5 81.6h0.9M455.2 82.7h0.9M454.4 88.7h0.9M443.7 91.4h0.9M469.2 85.4h0.9M457.0 79.7h0.9M466.5 92.6h0.9M456.5 94.8h0.9M454.1 93.7h0.9M450.7 95.8h0.9M469.9 87.5h0.9M455.8 104.3h0.9M450.7 92.1h0.9M453.4 87.4h0.9M440.9 95.9h0.9M457.2 92.2h0.9M443.3 86.8h0.9M451.2 92.9h0.9M448.4 84.9h0.9M444.8 99.5h0.9M463.6 98.0h0.9M445.3 91.3h0.9M440.9 90.9h0.9M438.3 88.2h0.9M457.1 84.0h0.9M459.2 86.9h0.9M450.1 89.8h0.9M446.7 83.5h0.9M460.3 100.1h0.9M441.4 89.9h0.9M461.7 88.2h0.9M451.5 95.5h0.9M456.7 95.0h0.9M458.8 81.6h0.9M451.7 89.8h0.9M450.4 90.7h0.9M453.4 83.4h0.9M454.3 85.9h0.9M448.5 85.1h0.9M460.4 92.7h0.9M449.7 92.4h0.9M453.0 107.0h0.9M460.8 76.2h0.9M468.2 95.0h0.9M459.3 68.0h0.9M463.8 87.0h0.9M451.1 97.4h0.9M448.2 83.3h0.9M459.0 68.4h0.9M459.2 96.6h0.9M439.9 89.7h0.9M467.2 84.8h0.9M439.0 90.0h0.9M455.2 81.8h0.9M450.7 65.2h0.9M442.3 92.8h0.9M450.8 88.6h0.9M460.8 101.0h0.9M458.1 87.7h0.9M458.5 101.1h0.9M459.5 84.4h0.9M449.9 43.3h0.9M458.4 72.4h0.9M445.3 92.8h0.9M443.6 82.5h0.9M465.5 96.0h0.9M450.4 94.1h0.9M445.8 87.7h0.9M454.3 109.3h0.9M451.1 94.5h0.9M462.6 88.0h0.9M454.9 111.7h0.9M461.8 86.5h0.9M456.2 86.5h0.9M461.0 84.9h0.9M452.6 90.4h0.9M441.7 92.5h0.9M466.8 90.2h0.9M456.6 58.4h0.9M459.9 83.2h0.9M461.6 92.2h0.9M451.0 94.2h0.9M440.8 97.0h0.9M450.0 66.8h0.9M467.1 81.5h0.9M441.5 90.2h0.9M446.3 96.7h0.9M438.7 93.2h0.9M452.5 85.2h0.9M468.7 89.1h0.9M440.6 94.6h0.9M448.8 115.1h0.9M459.5 90.4h0.9M447.3 92.0h0.9M453.5 86.4h0.9M458.0 103.3h0.9M447.8 98.7h0.9M456.4 85.8h0.9M445.0 87.0h0.9M466.9 90.1h0.9M457.6 86.7h0.9M453.4 90.6h0.9M440.8 93.0h0.9M452.8 93.9h0.9M460.1 108.6h0.9M455.6 89.0h0.9M459.9 95.6h0.9M457.4 82.7h0.9M459.8 90.0h0.9M461.3 61.3h0.9M445.9 75.8h0.9M448.7 92.4h0.9M457.3 94.1h0.9M447.6 90.9h0.9M452.7 87.2h0.9M451.7 60.1h0.9M455.1 100.9h0.9M448.5 98.9h0.9M440.7 105.7h0.9" stroke="#000" stroke-width="0.9" fill="none" opacity="0.20"/>
<path d="M450.8 91.1h0.9M466.7 95.2h0.9M453.0 87.5h0.9M452.3 102.9h0.9M445.8 89.3h0.9M460.4 94.6h0.9M467.4 93.9h0.9M459.9 88.0h0.9M445.1 78.8h0.9M455.0 101.4h0.9M465.0 84.5h0.9M449.0 89.0h0.9M455.9 61.0h0.9M446.0 91.4h0.9M455.9 92.1h0.9M464.3 96.0h0.9M449.3 82.6h0.9M441.7 81.9h0.9M456.1 96.6h0.9M452.9 66.3h0.9M441.5 96.3h0.9M440.9 85.7h0.9M450.8 80.0h0.9M451.6 69.8h0.9M456.6 55.6h0.9M450.8 94.6h0.9M445.1 94.0h0.9M454.9 88.9h0.9M449.1 72.1h0.9M457.4 66.3h0.9M451.2 83.9h0.9M446.9 111.3h0.9M462.4 84.5h0.9M463.6 83.7h0.9M458.5 109.4h0.9M469.4 86.5h0.9M452.6 71.6h0.9M439.5 85.9h0.9M454.2 85.0h0.9M453.8 66.1h0.9M470.3 96.0h0.9M458.1 86.6h0.9M458.7 92.6h0.9M446.0 89.3h0.9M452.4 93.9h0.9M447.0 89.8h0.9M449.4 80.7h0.9M446.5 96.9h0.9M451.2 91.4h0.9M460.8 65.7h0.9M443.2 84.3h0.9M450.3 91.9h0.9M445.0 96.0h0.9M457.8 93.9h0.9M459.3 96.4h0.9M458.1 83.5h0.9M458.6 93.9h0.9M450.4 94.6h0.9M456.5 94.9h0.9M456.6 95.5h0.9M447.7 103.8h0.9M453.4 83.2h0.9M459.6 82.6h0.9M458.4 78.6h0.9M456.8 93.5h0.9M448.8 69.5h0.9M449.8 70.5h0.9M453.2 92.7h0.9M451.6 80.5h0.9M444.1 78.5h0.9M446.0 71.3h0.9M448.9 85.5h0.9M449.1 68.1h0.9M465.9 96.4h0.9M453.0 90.3h0.9M451.1 99.2h0.9M439.2 95.3h0.9M460.9 84.9h0.9M464.1 84.3h0.9M444.7 93.2h0.9M444.8 91.0h0.9M458.7 79.6h0.9M470.3 90.4h0.9M454.7 60.8h0.9M457.5 94.4h0.9M456.5 63.3h0.9M445.7 94.5h0.9M458.0 84.2h0.9M464.3 86.9h0.9M442.4 87.8h0.9M457.1 84.9h0.9M448.2 84.1h0.9M460.1 87.4h0.9M453.7 71.7h0.9M458.4 94.5h0.9M457.6 93.8h0.9M456.2 96.0h0.9M455.2 94.9h0.9M444.9 89.5h0.9M448.8 115.4h0.9M451.4 68.0h0.9M445.4 84.9h0.9M469.9 89.7h0.9M458.8 84.2h0.9M456.7 97.0h0.9M452.7 112.7h0.9M464.1 80.0h0.9M462.7 88.2h0.9M460.4 87.8h0.9M451.7 95.8h0.9M450.3 78.1h0.9M448.4 93.3h0.9M447.9 94.4h0.9M446.7 88.5h0.9M438.7 96.4h0.9M461.0 92.2h0.9M459.0 100.0h0.9M449.2 70.4h0.9M443.5 91.2h0.9M459.4 97.7h0.9M469.6 87.3h0.9M459.3 83.4h0.9M454.1 88.1h0.9M459.1 90.2h0.9M448.8 95.9h0.9M450.8 101.1h0.9M456.1 87.5h0.9M442.5 88.0h0.9M439.3 95.9h0.9M445.9 96.7h0.9M453.9 68.0h0.9M442.4 82.5h0.9M453.6 106.1h0.9M456.2 86.2h0.9M451.4 91.5h0.9M460.1 91.3h0.9M458.3 81.7h0.9M451.8 108.8h0.9M458.9 68.4h0.9M452.2 88.8h0.9M448.9 92.8h0.9M462.9 71.9h0.9M449.8 90.6h0.9M455.5 99.9h0.9M461.9 104.0h0.9M466.5 92.1h0.9M438.2 106.5h0.9M460.3 91.2h0.9M446.4 88.3h0.9M453.0 77.2h0.9M454.2 82.8h0.9M452.6 60.7h0.9M460.3 93.1h0.9M447.0 84.4h0.9M445.8 101.5h0.9M451.0 95.9h0.9M460.7 83.4h0.9M445.2 90.0h0.9M461.6 96.6h0.9M452.6 94.5h0.9M457.8 90.2h0.9M460.5 60.5h0.9M460.4 90.2h0.9M455.5 93.9h0.9M454.4 82.6h0.9M466.6 94.6h0.9M460.3 55.2h0.9M466.0 85.6h0.9M445.8 90.2h0.9M458.8 95.6h0.9M456.5 84.2h0.9M454.8 85.0h0.9M464.9 95.4h0.9M450.5 79.2h0.9M470.3 87.0h0.9M453.0 88.1h0.9M464.9 90.3h0.9M457.7 88.9h0.9M444.8 84.1h0.9M441.6 88.2h0.9M469.0 90.9h0.9M454.2 85.2h0.9M457.8 85.9h0.9M458.6 95.6h0.9M455.0 70.4h0.9M453.5 88.8h0.9M462.4 92.5h0.9M458.5 53.4h0.9M451.3 71.0h0.9M457.3 87.7h0.9M455.7 107.2h0.9M453.1 94.3h0.9M456.7 96.0h0.9M437.5 90.8h0.9M454.3 84.9h0.9M459.7 92.6h0.9M460.1 88.3h0.9M459.3 98.8h0.9M455.7 91.6h0.9M445.2 64.0h0.9M445.4 70.9h0.9" stroke="#000" stroke-width="0.9" fill="none" opacity="0.32"/>
<path d="M448.4 86.2h0.9M462.6 94.7h0.9M445.3 93.3h0.9M458.0 93.1h0.9M442.1 89.8h0.9M455.7 87.5h0.9M449.2 83.0h0.9M442.2 89.7h0.9M469.3 93.3h0.9M457.5 92.9h0.9M465.5 87.3h0.9M449.0 106.2h0.9M454.7 96.1h0.9M452.0 93.5h0.9M463.1 90.6h0.9M441.2 85.3h0.9M452.0 80.8h0.9M452.8 92.6h0.9M450.3 89.1h0.9M453.7 87.8h0.9M457.5 103.3h0.9M459.0 83.7h0.9M447.9 86.1h0.9M450.0 70.7h0.9M451.2 90.7h0.9M446.6 61.5h0.9M451.1 97.5h0.9M457.5 109.7h0.9M457.4 66.9h0.9M457.7 87.4h0.9M447.5 88.1h0.9M456.2 81.3h0.9M451.3 88.6h0.9M443.1 96.0h0.9M438.2 85.2h0.9M445.1 88.9h0.9M446.8 90.6h0.9M456.9 80.6h0.9M448.3 95.5h0.9M457.6 57.4h0.9M455.5 90.1h0.9M461.5 91.3h0.9M455.8 74.8h0.9M448.2 98.9h0.9M450.6 99.5h0.9M448.5 96.3h0.9M450.7 114.0h0.9M441.4 98.6h0.9M456.6 96.8h0.9M451.2 92.8h0.9M453.5 76.4h0.9M465.8 110.3h0.9M458.5 65.3h0.9M464.4 95.1h0.9M464.0 82.0h0.9M455.2 59.2h0.9M443.2 86.0h0.9M451.8 86.8h0.9M443.7 90.1h0.9M446.7 85.7h0.9M453.3 88.9h0.9M448.3 87.6h0.9M457.6 90.3h0.9M452.6 89.6h0.9M453.3 96.8h0.9M445.6 82.5h0.9M451.2 90.0h0.9M463.5 95.5h0.9M450.9 90.2h0.9M451.3 84.6h0.9M459.8 89.7h0.9M440.9 94.2h0.9M457.0 85.7h0.9M470.3 87.1h0.9M454.5 81.6h0.9M449.8 75.4h0.9M466.8 91.8h0.9M458.1 97.6h0.9M447.9 91.5h0.9M460.3 85.0h0.9M460.4 104.5h0.9M462.7 91.2h0.9M450.6 69.0h0.9M466.2 92.2h0.9M453.8 78.1h0.9M450.9 91.1h0.9M462.0 95.0h0.9M439.7 102.9h0.9M453.9 93.5h0.9M454.1 81.1h0.9M449.1 93.9h0.9M454.3 92.1h0.9M450.1 92.8h0.9M442.0 94.4h0.9M470.2 91.6h0.9M469.6 90.6h0.9M450.9 89.1h0.9M458.7 55.5h0.9M456.6 72.2h0.9M440.8 83.1h0.9M448.1 79.3h0.9M452.0 95.5h0.9M447.4 79.0h0.9M441.6 82.9h0.9M456.2 96.5h0.9M448.5 83.9h0.9M440.9 82.6h0.9M470.1 91.4h0.9M438.6 93.2h0.9M456.8 107.5h0.9M441.1 88.8h0.9M466.6 76.5h0.9M467.1 87.0h0.9M454.7 91.8h0.9M457.0 63.5h0.9M449.6 90.7h0.9M451.4 70.2h0.9M460.8 104.5h0.9M441.4 89.1h0.9M440.5 91.4h0.9M455.8 90.9h0.9M453.5 102.8h0.9M453.2 82.8h0.9M448.9 85.2h0.9M455.7 76.6h0.9M449.3 92.5h0.9M454.6 73.9h0.9M449.1 91.6h0.9M464.9 84.9h0.9M469.2 96.9h0.9M441.9 88.7h0.9M449.6 92.4h0.9M455.3 95.7h0.9M450.3 91.1h0.9M459.3 88.3h0.9M460.0 101.7h0.9M452.8 87.0h0.9M462.9 104.4h0.9M461.6 89.7h0.9M462.7 93.0h0.9M439.1 92.0h0.9M463.5 88.6h0.9M453.9 94.5h0.9M457.9 58.4h0.9M451.1 90.0h0.9" stroke="#000" stroke-width="0.9" fill="none" opacity="0.44"/>
<path d="M462.0 88.9h0.9M440.6 88.7h0.9M458.1 105.5h0.9M460.5 90.9h0.9M450.9 94.7h0.9M470.5 95.3h0.9M448.6 86.7h0.9M462.6 91.1h0.9M451.3 92.4h0.9M464.6 87.6h0.9M467.2 86.0h0.9M446.5 92.4h0.9M459.2 121.5h0.9M466.4 85.1h0.9M457.4 98.1h0.9M466.3 95.4h0.9M452.6 85.0h0.9M438.5 90.8h0.9M458.6 92.8h0.9M443.8 82.9h0.9M448.7 90.3h0.9M461.6 85.3h0.9M455.2 82.4h0.9M452.7 83.6h0.9M468.5 92.3h0.9M451.8 86.1h0.9M462.6 85.5h0.9M451.6 91.8h0.9M440.8 89.9h0.9M464.8 84.8h0.9M462.4 93.8h0.9M464.5 90.6h0.9M448.3 82.8h0.9M445.4 87.5h0.9M440.3 96.1h0.9M453.3 81.9h0.9M454.7 83.5h0.9M468.1 83.8h0.9M445.0 83.9h0.9M450.9 88.8h0.9M463.9 85.9h0.9M458.0 89.7h0.9M454.4 68.2h0.9M467.1 90.5h0.9M439.9 83.4h0.9M449.1 87.1h0.9M449.8 66.9h0.9M458.5 96.4h0.9M456.0 93.0h0.9M455.7 84.9h0.9M453.0 89.9h0.9M449.8 88.8h0.9M453.4 88.5h0.9M451.7 92.5h0.9M454.9 88.3h0.9M442.0 109.8h0.9M454.2 83.7h0.9M446.5 88.4h0.9M468.8 96.7h0.9M469.1 82.8h0.9M450.8 95.4h0.9M450.1 83.1h0.9M464.0 91.8h0.9M458.3 88.3h0.9M458.3 87.6h0.9M447.6 87.5h0.9M459.5 91.7h0.9M448.8 87.8h0.9M457.4 85.8h0.9M456.6 90.9h0.9M454.5 94.9h0.9M463.4 82.2h0.9M468.7 98.7h0.9M449.1 84.3h0.9M445.0 82.6h0.9M449.8 94.6h0.9M451.4 86.0h0.9M466.2 91.0h0.9M455.6 92.1h0.9M455.5 92.2h0.9M451.0 92.3h0.9M450.3 85.7h0.9M454.0 85.2h0.9M452.9 82.8h0.9M453.5 88.0h0.9M441.8 93.2h0.9M451.8 104.7h0.9M441.9 85.0h0.9M450.7 95.3h0.9M461.5 86.6h0.9M465.9 90.3h0.9M461.0 78.6h0.9M446.9 72.5h0.9M447.5 90.2h0.9M465.9 96.5h0.9M455.8 79.2h0.9M450.4 98.4h0.9M450.3 87.6h0.9M455.2 74.6h0.9M452.1 77.8h0.9M447.7 106.0h0.9M451.0 87.6h0.9M456.3 110.8h0.9M457.4 95.0h0.9M460.6 85.7h0.9M444.5 86.5h0.9M463.0 92.6h0.9M444.7 89.6h0.9M441.7 86.9h0.9M452.5 94.8h0.9M444.3 84.8h0.9M450.9 81.2h0.9M446.7 75.3h0.9M448.4 88.6h0.9M455.6 88.2h0.9M458.6 93.9h0.9M451.6 90.6h0.9M450.7 93.0h0.9M456.6 82.0h0.9M456.2 63.8h0.9M469.3 85.8h0.9M457.5 104.9h0.9M453.5 70.6h0.9M460.4 74.7h0.9M444.6 84.3h0.9M464.2 96.7h0.9M458.8 91.2h0.9M450.3 86.3h0.9M454.1 71.8h0.9M450.9 82.8h0.9M456.3 95.2h0.9M464.0 86.0h0.9M453.4 83.9h0.9M447.3 89.9h0.9M455.6 95.4h0.9M442.1 94.1h0.9M450.7 86.5h0.9M450.9 83.8h0.9M450.2 90.4h0.9M457.1 94.1h0.9M438.3 89.4h0.9M453.3 66.6h0.9M443.7 95.4h0.9M444.1 92.9h0.9M441.7 91.2h0.9M457.0 80.0h0.9M438.5 96.8h0.9M446.4 99.7h0.9M456.7 103.3h0.9M439.7 87.1h0.9M463.7 87.2h0.9M451.6 68.3h0.9M441.8 86.6h0.9M466.3 86.1h0.9M455.4 91.4h0.9M445.3 89.7h0.9M450.3 89.4h0.9M447.5 91.9h0.9M444.5 82.1h0.9M440.0 86.0h0.9M459.3 86.5h0.9" stroke="#000" stroke-width="0.9" fill="none" opacity="0.56"/>
<line x1="414.3" x2="516.0" y1="80.4" y2="80.4" stroke="#222" stroke-width="0.9"/>
<text class="se" x="463.9" y="26.0" font-size="11.2" font-weight="bold" text-anchor="middle" stroke="#000" stroke-width="0.2">Gated CD8<tspan dy="-3.0" font-size="6.6">+</tspan></text>
<text class="sa" x="494.3" y="49.9" font-size="20.5" font-weight="bold" text-anchor="start" fill="#000" >iv</text>
<path d="M22.80,275.03 L23.05,275.35 L23.30,275.57 L23.55,275.65 L23.80,275.73 L24.05,275.69 L24.30,275.84 L24.55,275.90 L24.80,276.41 L25.05,276.55 L25.30,276.54 L25.55,276.74 L25.80,276.60 L26.05,276.55 L26.30,276.49 L26.55,275.99 L26.80,275.54 L27.05,275.35 L27.30,274.88 L27.55,275.20 L27.80,275.64 L28.05,275.34 L28.30,275.41 L28.55,274.88 L28.80,274.48 L29.05,274.23 L29.30,274.17 L29.55,274.35 L29.80,274.49 L30.05,274.28 L30.30,274.54 L30.55,274.81 L30.80,275.08 L31.05,275.54 L31.30,275.61 L31.55,275.71 L31.80,275.06 L32.05,274.74 L32.30,274.12 L32.55,273.90 L32.80,273.98 L33.05,273.61 L33.30,273.56 L33.55,273.10 L33.80,272.37 L34.05,271.81 L34.30,271.45 L34.55,271.30 L34.80,271.35 L35.05,271.03 L35.30,270.83 L35.55,270.79 L35.80,270.66 L36.05,270.84 L36.30,270.37 L36.55,269.84 L36.80,268.95 L37.05,268.44 L37.30,268.44 L37.55,268.28 L37.80,268.34 L38.05,268.64 L38.30,269.18 L38.55,269.28 L38.80,269.83 L39.05,269.83 L39.30,269.93 L39.55,270.87 L39.80,270.87 L40.05,271.73 L40.30,271.54 L40.55,270.64 L40.80,270.95 L41.05,270.84 L41.30,271.54 L41.55,271.80 L41.80,271.79 L42.05,271.70 L42.30,271.49 L42.55,271.26 L42.80,271.18 L43.05,270.92 L43.30,270.73 L43.55,271.01 L43.80,270.89 L44.05,271.19 L44.30,271.10 L44.55,271.19 L44.80,271.28 L45.05,270.55 L45.30,270.30 L45.55,269.84 L45.80,269.00 L46.05,268.42 L46.30,267.16 L46.55,266.28 L46.80,265.26 L47.05,264.05 L47.30,264.34 L47.55,264.59 L47.80,264.96 L48.05,265.99 L48.30,266.40 L48.55,266.77 L48.80,266.88 L49.05,266.98 L49.30,266.72 L49.55,267.24 L49.80,267.43 L50.05,267.36 L50.30,268.17 L50.55,267.84 L50.80,268.19 L51.05,268.85 L51.30,269.14 L51.55,269.35 L51.80,268.91 L52.05,268.84 L52.30,268.71 L52.55,268.62 L52.80,269.09 L53.05,268.95 L53.30,269.37 L53.55,270.20 L53.80,270.60 L54.05,270.70 L54.30,270.99 L54.55,270.83 L54.80,270.44 L55.05,270.30 L55.30,269.82 L55.55,269.38 L55.80,269.48 L56.05,269.03 L56.30,268.35 L56.55,267.64 L56.80,267.15 L57.05,267.05 L57.30,266.98 L57.55,266.94 L57.80,266.66 L58.05,266.44 L58.30,266.80 L58.55,267.44 L58.80,267.46 L59.05,267.68 L59.30,267.66 L59.55,267.62 L59.80,268.22 L60.05,267.99 L60.30,267.99 L60.55,268.14 L60.80,267.87 L61.05,268.23 L61.30,268.33 L61.55,267.70 L61.80,267.91 L62.05,268.38 L62.30,268.60 L62.55,269.36 L62.80,269.34 L63.05,269.11 L63.30,269.13 L63.55,269.19 L63.80,269.30 L64.05,269.54 L64.30,269.59 L64.55,269.61 L64.80,270.04 L65.05,269.89 L65.30,270.25 L65.55,269.94 L65.80,269.67 L66.05,269.75 L66.30,269.65 L66.55,270.07 L66.80,270.79 L67.05,270.70 L67.30,270.99 L67.55,270.84 L67.80,270.53 L68.05,270.92 L68.30,270.85 L68.55,271.35 L68.80,271.28 L69.05,271.19 L69.30,271.27 L69.55,271.37 L69.80,271.50 L70.05,271.60 L70.30,271.29 L70.55,270.86 L70.80,270.71 L71.05,271.03 L71.30,271.13 L71.55,271.35 L71.80,271.52 L72.05,271.13 L72.30,271.24 L72.55,271.17 L72.80,271.42 L73.05,271.81 L73.30,272.37 L73.55,272.49 L73.80,272.26 L74.05,271.96 L74.30,271.57 L74.55,271.74 L74.80,271.31 L75.05,271.80 L75.30,272.21 L75.55,272.32 L75.80,272.74 L76.05,272.65 L76.30,272.51 L76.55,272.68 L76.80,272.53 L77.05,272.65 L77.30,272.86 L77.55,272.69 L77.80,273.27 L78.05,273.24 L78.30,272.76 L78.55,272.89 L78.80,272.78 L79.05,272.87 L79.30,273.28 L79.55,273.06 L79.80,272.99 L80.05,273.04 L80.30,273.27 L80.55,273.54 L80.80,273.54 L81.05,273.52 L81.30,273.40 L81.55,273.84 L81.80,273.86 L82.05,274.25 L82.30,274.56 L82.55,274.29 L82.80,274.56 L83.05,274.26 L83.30,274.19 L83.55,274.23 L83.80,274.42 L84.05,274.89 L84.30,274.82 L84.55,274.96 L84.80,274.78 L85.05,274.45 L85.30,274.23 L85.55,273.96 L85.80,273.90 L86.05,273.65 L86.30,273.76 L86.55,274.00 L86.80,273.95 L87.05,274.48 L87.30,274.69 L87.55,274.50 L87.80,274.92 L88.05,274.60 L88.30,274.82 L88.55,275.18 L88.80,275.04 L89.05,275.07 L89.30,274.63 L89.55,274.54 L89.80,274.60 L90.05,274.62 L90.30,274.79 L90.55,275.06 L90.80,275.25 L91.05,275.06 L91.30,275.44 L91.55,274.98 L91.80,274.91 L92.05,274.91 L92.30,274.73 L92.55,274.37 L92.80,273.74 L93.05,272.85 L93.30,271.85 L93.55,271.10 L93.80,271.02 L94.05,271.66 L94.30,272.65 L94.55,273.57 L94.80,274.24 L95.05,274.63 L95.30,274.82 L95.55,274.88 L95.80,274.77 L96.05,274.51 L96.30,274.05 L96.55,273.26 L96.80,272.12 L97.05,270.74 L97.30,269.52 L97.55,269.05 L97.80,269.58 L98.05,270.71 L98.30,271.88 L98.55,272.76 L98.80,273.28 L99.05,273.50 L99.30,273.51 L99.55,273.39 L99.80,273.12 L100.05,272.56 L100.30,271.51 L100.55,269.85 L100.80,267.71 L101.05,265.61 L101.30,264.48 L101.55,265.02 L101.80,266.83 L102.05,268.94 L102.30,270.68 L102.55,271.81 L102.80,272.39 L103.05,272.60 L103.30,272.54 L103.55,272.17 L103.80,271.39 L104.05,269.90 L104.30,267.47 L104.55,264.13 L104.80,260.55 L105.05,258.08 L105.30,258.14 L105.55,260.61 L105.80,264.00 L106.05,267.01 L106.30,269.08 L106.55,270.20 L106.80,270.63 L107.05,270.58 L107.30,270.19 L107.55,269.15 L107.80,266.94 L108.05,263.04 L108.30,257.32 L108.55,250.65 L108.80,245.25 L109.05,244.06 L109.30,247.90 L109.55,254.31 L109.80,260.58 L110.05,265.24 L110.30,268.04 L110.55,269.39 L110.80,269.78 L111.05,269.42 L111.30,268.11 L111.55,265.24 L111.80,259.96 L112.05,251.81 L112.30,241.63 L112.55,232.24 L112.80,228.15 L113.05,232.06 L113.30,241.27 L113.55,251.26 L113.80,259.20 L114.05,264.26 L114.30,266.86 L114.55,267.83 L114.80,267.70 L115.05,266.43 L115.30,263.36 L115.55,257.38 L115.80,247.62 L116.05,234.61 L116.30,221.31 L116.55,213.32 L116.80,215.65 L117.05,226.61 L117.30,240.17 L117.55,251.78 L117.80,259.65 L118.05,264.01 L118.30,265.95 L118.55,266.38 L118.80,265.58 L119.05,263.18 L119.30,258.18 L119.55,249.56 L119.80,237.35 L120.05,223.73 L120.30,213.65 L120.55,212.89 L120.80,221.93 L121.05,235.24 L121.30,247.59 L121.55,256.47 L121.80,261.67 L122.05,264.15 L122.30,264.94 L122.55,264.49 L122.80,262.70 L123.05,258.80 L123.30,251.78 L123.55,241.29 L123.80,228.68 L124.05,217.82 L124.30,214.25 L124.55,220.32 L124.80,231.93 L125.05,243.76 L125.30,252.79 L125.55,258.33 L125.80,261.06 L126.05,261.97 L126.30,261.93 L126.55,260.86 L126.80,257.73 L127.05,251.39 L127.30,241.10 L127.55,227.74 L127.80,214.84 L128.05,208.49 L128.30,213.11 L128.55,225.77 L128.80,240.19 L129.05,252.13 L129.30,260.15 L129.55,264.72 L129.80,267.03 L130.05,267.98 L130.30,267.80 L130.55,266.61 L130.80,263.92 L131.05,259.27 L131.30,252.81 L131.55,245.93 L131.80,241.39 L132.05,242.03 L132.30,247.45 L132.55,254.58 L132.80,260.90 L133.05,265.33 L133.30,267.90 L133.55,269.16 L133.80,269.65 L134.05,269.62 L134.30,269.06 L134.55,267.69 L134.80,265.18 L135.05,261.49 L135.30,257.22 L135.55,253.83 L135.80,253.25 L136.05,255.89 L136.30,260.13 L136.55,264.22 L136.80,267.27 L137.05,269.13 L137.30,270.08 L137.55,270.49 L137.80,270.67 L138.05,270.61 L138.30,270.15 L138.55,269.11 L138.80,267.39 L139.05,265.21 L139.30,263.25 L139.55,262.56 L139.80,263.73 L140.05,266.09 L140.30,268.60 L140.55,270.62 L140.80,271.98 L141.05,272.80 L141.30,273.27 L141.55,273.57 L141.80,273.79 L142.05,273.94 L142.30,274.03 L142.55,274.05 L142.80,274.02 L143.05,273.97 L143.30,274.02 L143.55,274.23 L143.80,274.58 L144.05,274.96 L144.30,275.31 L144.55,275.60 L144.80,275.82 L145.05,276.01 L145.30,276.17 L145.55,276.23 L145.80,276.28 L146.05,276.28 L146.30,276.23 L146.55,276.12 L146.80,276.00 L147.05,275.93 L147.30,276.00 L147.55,276.21 L147.80,276.48 L148.05,276.73 L148.30,276.92 L148.55,277.06 L148.80,277.16 L149.05,277.24 L149.30,277.29 L149.55,277.31 L149.80,277.32 L150.05,277.31 L150.30,277.26 L150.55,277.19 L150.80,277.15 L151.05,277.16 L151.30,277.25 L151.55,277.39 L151.80,277.53 L152.05,277.65 L152.30,277.74 L152.55,277.80 L152.80,277.85" fill="none" stroke="#3c3c3c" stroke-width="0.7" stroke-linejoin="round"/>
<path d="M22.4 194.5V278.4M238.1 194.5V278.4" fill="none" stroke="#777" stroke-width="1.15"/>
<line x1="21.9" x2="238.6" y1="278.4" y2="278.4" stroke="#444" stroke-width="1.1"/>
<line x1="21.799999999999997" x2="238.7" y1="194.5" y2="194.5" stroke="#484848" stroke-width="1.6"/>
<line x1="41" x2="41" y1="191.9" y2="194.5" stroke="#555" stroke-width="0.8"/>
<text class="sa" x="40.7" y="190.3" font-size="7.0" font-weight="normal" text-anchor="start" fill="#222" stroke="#222" stroke-width="0.2" letter-spacing="0.2">3200</text>
<line x1="94.5" x2="94.5" y1="191.9" y2="194.5" stroke="#555" stroke-width="0.8"/>
<text class="sa" x="94.2" y="190.3" font-size="7.0" font-weight="normal" text-anchor="start" fill="#222" stroke="#222" stroke-width="0.2" letter-spacing="0.2">3600</text>
<line x1="147.8" x2="147.8" y1="191.9" y2="194.5" stroke="#555" stroke-width="0.8"/>
<text class="sa" x="147.5" y="190.3" font-size="7.0" font-weight="normal" text-anchor="start" fill="#222" stroke="#222" stroke-width="0.2" letter-spacing="0.2">4000</text>
<line x1="201.6" x2="201.6" y1="191.9" y2="194.5" stroke="#555" stroke-width="0.8"/>
<text class="sa" x="201.29999999999998" y="190.3" font-size="7.0" font-weight="normal" text-anchor="start" fill="#222" stroke="#222" stroke-width="0.2" letter-spacing="0.2">4400</text>
<line x1="19.599999999999998" x2="22.4" y1="278.0" y2="278.0" stroke="#444" stroke-width="0.8"/>
<line x1="20.799999999999997" x2="22.4" y1="272.78" y2="272.78" stroke="#888" stroke-width="0.5"/>
<text class="sa" x="17.8" y="280.52" font-size="7.0" font-weight="normal" text-anchor="end" fill="#222" stroke="#222" stroke-width="0.2" letter-spacing="0.2">0</text>
<line x1="19.599999999999998" x2="22.4" y1="267.57" y2="267.57" stroke="#444" stroke-width="0.8"/>
<line x1="20.799999999999997" x2="22.4" y1="262.36" y2="262.36" stroke="#888" stroke-width="0.5"/>
<text class="sa" x="17.8" y="270.09" font-size="7.0" font-weight="normal" text-anchor="end" fill="#222" stroke="#222" stroke-width="0.2" letter-spacing="0.2">1000</text>
<line x1="19.599999999999998" x2="22.4" y1="257.14" y2="257.14" stroke="#444" stroke-width="0.8"/>
<line x1="20.799999999999997" x2="22.4" y1="251.93" y2="251.93" stroke="#888" stroke-width="0.5"/>
<text class="sa" x="17.8" y="259.65999999999997" font-size="7.0" font-weight="normal" text-anchor="end" fill="#222" stroke="#222" stroke-width="0.2" letter-spacing="0.2">2000</text>
<line x1="19.599999999999998" x2="22.4" y1="246.71" y2="246.71" stroke="#444" stroke-width="0.8"/>
<line x1="20.799999999999997" x2="22.4" y1="241.50" y2="241.50" stroke="#888" stroke-width="0.5"/>
<text class="sa" x="17.8" y="249.23000000000002" font-size="7.0" font-weight="normal" text-anchor="end" fill="#222" stroke="#222" stroke-width="0.2" letter-spacing="0.2">3000</text>
<line x1="19.599999999999998" x2="22.4" y1="236.28" y2="236.28" stroke="#444" stroke-width="0.8"/>
<line x1="20.799999999999997" x2="22.4" y1="231.06" y2="231.06" stroke="#888" stroke-width="0.5"/>
<text class="sa" x="17.8" y="238.8" font-size="7.0" font-weight="normal" text-anchor="end" fill="#222" stroke="#222" stroke-width="0.2" letter-spacing="0.2">4000</text>
<line x1="19.599999999999998" x2="22.4" y1="225.85" y2="225.85" stroke="#444" stroke-width="0.8"/>
<line x1="20.799999999999997" x2="22.4" y1="220.63" y2="220.63" stroke="#888" stroke-width="0.5"/>
<text class="sa" x="17.8" y="228.37" font-size="7.0" font-weight="normal" text-anchor="end" fill="#222" stroke="#222" stroke-width="0.2" letter-spacing="0.2">5000</text>
<line x1="19.599999999999998" x2="22.4" y1="215.42000000000002" y2="215.42000000000002" stroke="#444" stroke-width="0.8"/>
<line x1="20.799999999999997" x2="22.4" y1="210.21" y2="210.21" stroke="#888" stroke-width="0.5"/>
<text class="sa" x="17.8" y="217.94000000000003" font-size="7.0" font-weight="normal" text-anchor="end" fill="#222" stroke="#222" stroke-width="0.2" letter-spacing="0.2">6000</text>
<line x1="19.599999999999998" x2="22.4" y1="204.99" y2="204.99" stroke="#444" stroke-width="0.8"/>
<text class="sa" x="17.8" y="207.51000000000002" font-size="7.0" font-weight="normal" text-anchor="end" fill="#222" stroke="#222" stroke-width="0.2" letter-spacing="0.2">7000</text>
<text class="sa" x="225.6" y="214.8" font-size="20.5" font-weight="bold" text-anchor="start" fill="#000" >i</text>
<text class="se" x="120.8" y="297.4" font-size="14.9" font-weight="bold" text-anchor="middle" fill="#000" stroke="#000" stroke-width="0.15">WT spleen</text>
<path d="M293.90,270.07 L294.15,270.17 L294.40,270.27 L294.65,270.38 L294.90,270.48 L295.15,271.04 L295.40,271.18 L295.65,271.33 L295.90,271.25 L296.15,270.84 L296.40,270.81 L296.65,270.65 L296.90,270.18 L297.15,270.12 L297.40,270.07 L297.65,270.18 L297.90,270.23 L298.15,270.23 L298.40,270.01 L298.65,269.90 L298.90,269.27 L299.15,268.97 L299.40,269.40 L299.65,269.87 L299.90,270.15 L300.15,270.45 L300.40,270.73 L300.65,271.28 L300.90,271.37 L301.15,271.11 L301.40,271.51 L301.65,271.50 L301.90,271.12 L302.15,270.98 L302.40,271.12 L302.65,270.44 L302.90,270.01 L303.15,269.62 L303.40,269.61 L303.65,269.64 L303.90,269.73 L304.15,269.71 L304.40,269.83 L304.65,269.72 L304.90,269.24 L305.15,269.03 L305.40,269.27 L305.65,269.21 L305.90,269.39 L306.15,269.90 L306.40,270.12 L306.65,270.47 L306.90,271.15 L307.15,271.10 L307.40,271.25 L307.65,271.35 L307.90,271.00 L308.15,270.81 L308.40,270.61 L308.65,270.87 L308.90,271.30 L309.15,271.54 L309.40,271.42 L309.65,271.49 L309.90,271.33 L310.15,270.99 L310.40,271.02 L310.65,270.73 L310.90,271.32 L311.15,271.23 L311.40,271.21 L311.65,271.38 L311.90,271.86 L312.15,271.60 L312.40,271.83 L312.65,271.86 L312.90,271.64 L313.15,271.50 L313.40,271.63 L313.65,271.58 L313.90,271.61 L314.15,271.62 L314.40,271.75 L314.65,271.52 L314.90,271.44 L315.15,271.73 L315.40,271.75 L315.65,271.91 L315.90,272.06 L316.15,272.18 L316.40,271.82 L316.65,272.01 L316.90,271.93 L317.15,272.32 L317.40,272.13 L317.65,272.31 L317.90,272.42 L318.15,272.27 L318.40,271.95 L318.65,272.17 L318.90,272.13 L319.15,272.09 L319.40,272.51 L319.65,272.83 L319.90,272.76 L320.15,272.70 L320.40,272.66 L320.65,272.48 L320.90,272.16 L321.15,272.15 L321.40,272.29 L321.65,272.25 L321.90,272.20 L322.15,272.47 L322.40,272.56 L322.65,272.83 L322.90,273.38 L323.15,273.45 L323.40,273.47 L323.65,273.32 L323.90,273.39 L324.15,272.92 L324.40,273.10 L324.65,273.03 L324.90,273.55 L325.15,273.00 L325.40,273.22 L325.65,272.89 L325.90,272.97 L326.15,273.02 L326.40,273.56 L326.65,273.34 L326.90,273.78 L327.15,273.79 L327.40,273.40 L327.65,273.12 L327.90,273.53 L328.15,273.51 L328.40,273.30 L328.65,273.64 L328.90,273.69 L329.15,273.52 L329.40,273.70 L329.65,273.93 L329.90,273.97 L330.15,274.13 L330.40,274.32 L330.65,274.05 L330.90,274.14 L331.15,273.93 L331.40,274.15 L331.65,274.08 L331.90,274.04 L332.15,273.86 L332.40,273.87 L332.65,273.59 L332.90,273.72 L333.15,273.85 L333.40,273.98 L333.65,274.14 L333.90,274.20 L334.15,274.19 L334.40,274.17 L334.65,274.35 L334.90,274.56 L335.15,274.94 L335.40,274.73 L335.65,275.09 L335.90,275.24 L336.15,275.40 L336.40,274.87 L336.65,274.78 L336.90,274.75 L337.15,274.91 L337.40,274.82 L337.65,275.29 L337.90,275.70 L338.15,275.55 L338.40,275.46 L338.65,275.39 L338.90,275.26 L339.15,275.16 L339.40,275.20 L339.65,275.17 L339.90,275.21 L340.15,275.20 L340.40,275.50 L340.65,275.43 L340.90,275.43 L341.15,275.28 L341.40,275.70 L341.65,275.45 L341.90,275.71 L342.15,275.50 L342.40,275.69 L342.65,275.59 L342.90,275.55 L343.15,275.62 L343.40,276.01 L343.65,276.18 L343.90,276.19 L344.15,276.48 L344.40,276.49 L344.65,276.18 L344.90,275.89 L345.15,275.58 L345.40,275.17 L345.65,274.99 L345.90,275.18 L346.15,275.56 L346.40,275.86 L346.65,276.19 L346.90,276.09 L347.15,276.19 L347.40,275.75 L347.65,275.45 L347.90,275.52 L348.15,275.80 L348.40,275.69 L348.65,276.08 L348.90,276.51 L349.15,276.56 L349.40,276.43 L349.65,276.80 L349.90,276.56 L350.15,276.13 L350.40,275.84 L350.65,275.66 L350.90,275.53 L351.15,275.82 L351.40,275.82 L351.65,275.96 L351.90,276.02 L352.15,275.75 L352.40,275.48 L352.65,275.90 L352.90,276.05 L353.15,276.10 L353.40,276.11 L353.65,276.21 L353.90,275.92 L354.15,275.96 L354.40,276.38 L354.65,276.55 L354.90,276.58 L355.15,276.48 L355.40,276.50 L355.65,276.11 L355.90,275.88 L356.15,275.70 L356.40,275.71 L356.65,275.55 L356.90,275.49 L357.15,276.10 L357.40,276.07 L357.65,276.04 L357.90,276.01 L358.15,275.97 L358.40,275.91 L358.65,275.83 L358.90,275.71 L359.15,275.51 L359.40,275.22 L359.65,274.80 L359.90,274.25 L360.15,273.60 L360.40,272.92 L360.65,272.33 L360.90,271.99 L361.15,272.01 L361.40,272.37 L361.65,272.95 L361.90,273.59 L362.15,274.19 L362.40,274.67 L362.65,275.02 L362.90,275.25 L363.15,275.38 L363.40,275.44 L363.65,275.46 L363.90,275.45 L364.15,275.42 L364.40,275.34 L364.65,275.22 L364.90,275.02 L365.15,274.70 L365.40,274.24 L365.65,273.60 L365.90,272.80 L366.15,271.91 L366.40,271.06 L366.65,270.44 L366.90,270.25 L367.15,270.55 L367.40,271.22 L367.65,272.05 L367.90,272.87 L368.15,273.58 L368.40,274.12 L368.65,274.48 L368.90,274.70 L369.15,274.82 L369.40,274.87 L369.65,274.87 L369.90,274.83 L370.15,274.75 L370.40,274.61 L370.65,274.38 L370.90,274.00 L371.15,273.41 L371.40,272.57 L371.65,271.48 L371.90,270.20 L372.15,268.88 L372.40,267.77 L372.65,267.19 L372.90,267.32 L373.15,268.11 L373.40,269.29 L373.65,270.56 L373.90,271.71 L374.15,272.63 L374.40,273.29 L374.65,273.71 L374.90,273.95 L375.15,274.06 L375.40,274.09 L375.65,274.05 L375.90,273.96 L376.15,273.78 L376.40,273.47 L376.65,272.93 L376.90,272.07 L377.15,270.80 L377.40,269.05 L377.65,266.89 L377.90,264.52 L378.15,262.32 L378.40,260.82 L378.65,260.50 L378.90,261.48 L379.15,263.39 L379.40,265.68 L379.65,267.91 L379.90,269.80 L380.15,271.21 L380.40,272.18 L380.65,272.77 L380.90,273.08 L381.15,273.21 L381.40,273.20 L381.65,273.09 L381.90,272.84 L382.15,272.36 L382.40,271.51 L382.65,270.09 L382.90,267.90 L383.15,264.78 L383.40,260.73 L383.65,256.02 L383.90,251.28 L384.15,247.47 L384.40,245.69 L384.65,246.61 L384.90,249.86 L385.15,254.40 L385.40,259.18 L385.65,263.45 L385.90,266.85 L386.15,269.28 L386.40,270.88 L386.65,271.83 L386.90,272.33 L387.15,272.55 L387.40,272.55 L387.65,272.30 L387.90,271.79 L388.15,270.87 L388.40,269.31 L388.65,266.84 L388.90,263.19 L389.15,258.27 L389.40,252.27 L389.65,245.80 L389.90,239.94 L390.15,236.16 L390.40,235.72 L390.65,238.77 L390.90,244.20 L391.15,250.51 L391.40,256.52 L391.65,261.54 L391.90,265.29 L392.15,267.82 L392.40,269.37 L392.65,270.23 L392.90,270.62 L393.15,270.70 L393.40,270.54 L393.65,270.09 L393.90,269.23 L394.15,267.71 L394.40,265.20 L394.65,261.37 L394.90,255.97 L395.15,249.07 L395.40,241.17 L395.65,233.38 L395.90,227.33 L396.15,224.86 L396.40,226.87 L396.65,232.58 L396.90,240.18 L397.15,248.00 L397.40,254.89 L397.65,260.30 L397.90,264.13 L398.15,266.61 L398.40,268.08 L398.65,268.86 L398.90,269.21 L399.15,269.26 L399.40,269.04 L399.65,268.50 L399.90,267.48 L400.15,265.74 L400.40,262.98 L400.65,258.93 L400.90,253.52 L401.15,247.01 L401.40,240.10 L401.65,234.01 L401.90,230.34 L402.15,230.35 L402.40,234.01 L402.65,240.01 L402.90,246.79 L403.15,253.13 L403.40,258.35 L403.65,262.21 L403.90,264.79 L404.15,266.37 L404.40,267.24 L404.65,267.66 L404.90,267.77 L405.15,267.66 L405.40,267.29 L405.65,266.58 L405.90,265.33 L406.15,263.30 L406.40,260.21 L406.65,255.92 L406.90,250.49 L407.15,244.39 L407.40,238.48 L407.65,234.08 L407.90,232.55 L408.15,234.45 L408.40,239.02 L408.65,244.87 L408.90,250.75 L409.15,255.85 L409.40,259.79 L409.65,262.53 L409.90,264.26 L410.15,265.24 L410.40,265.72 L410.65,265.88 L410.90,265.83 L411.15,265.62 L411.40,265.08 L411.65,264.05 L411.90,262.25 L412.15,259.40 L412.40,255.23 L412.65,249.70 L412.90,243.12 L413.15,236.26 L413.40,230.41 L413.65,227.20 L413.90,227.78 L414.15,231.95 L414.40,238.29 L414.65,245.24 L414.90,251.64 L415.15,256.87 L415.40,260.72 L415.65,263.32 L415.90,264.95 L416.15,265.91 L416.40,266.45 L416.65,266.73 L416.90,266.94 L417.15,267.00 L417.40,266.86 L417.65,266.42 L417.90,265.58 L418.15,264.20 L418.40,262.22 L418.65,259.69 L418.90,256.87 L419.15,254.21 L419.40,252.38 L419.65,252.01 L419.90,253.32 L420.15,255.87 L420.40,258.96 L420.65,262.01 L420.90,264.65 L421.15,266.71 L421.40,268.18 L421.65,269.18 L421.90,269.84 L422.15,270.26 L422.40,270.55 L422.65,270.74 L422.90,270.86 L423.15,270.88 L423.40,270.77 L423.65,270.48 L423.90,269.93 L424.15,269.06 L424.40,267.88 L424.65,266.47 L424.90,265.03 L425.15,263.86 L425.40,263.34 L425.65,263.72 L425.90,264.89 L426.15,266.52 L426.40,268.26 L426.65,269.84 L426.90,271.14 L427.15,272.12 L427.40,272.82 L427.65,273.30 L427.90,273.63 L428.15,273.87 L428.40,274.06 L428.65,274.19 L428.90,274.28 L429.15,274.33 L429.40,274.31 L429.65,274.21 L429.90,273.99 L430.15,273.64 L430.40,273.19 L430.65,272.68 L430.90,272.23 L431.15,271.96 L431.40,272.00 L431.65,272.39 L431.90,273.02 L432.15,273.75 L432.40,274.45 L432.65,275.07 L432.90,275.56 L433.15,275.93 L433.40,276.21 L433.65,276.42 L433.90,276.58 L434.15,276.72 L434.40,276.79 L434.65,276.83 L434.90,276.85 L435.15,276.85 L435.40,276.84 L435.65,276.81 L435.90,276.75 L436.15,276.66 L436.40,276.55 L436.65,276.45 L436.90,276.37 L437.15,276.35 L437.40,276.40 L437.65,276.53 L437.90,276.69 L438.15,276.85 L438.40,277.00 L438.65,277.13 L438.90,277.22 L439.15,277.29 L439.40,277.35 L439.65,277.39 L439.90,277.43 L440.15,277.45 L440.40,277.47 L440.65,277.49 L440.90,277.50 L441.15,277.51 L441.40,277.51 L441.65,277.49 L441.90,277.47 L442.15,277.43 L442.40,277.39 L442.65,277.36 L442.90,277.34 L443.15,277.36 L443.40,277.41 L443.65,277.48 L443.90,277.56 L444.15,277.63 L444.40,277.70 L444.65,277.75 L444.90,277.79 L445.15,277.82 L445.40,277.83 L445.65,277.84 L445.90,277.85 L446.15,277.86 L446.40,277.87 L446.65,277.88 L446.90,277.89 L447.15,277.90 L447.40,277.92 L447.65,277.93 L447.90,277.94 L448.15,277.95 L448.40,277.96 L448.65,277.97 L448.90,277.98 L449.15,277.99 L449.40,278.00 L449.65,278.01 L449.90,278.02 L450.15,278.03 L450.40,278.04 L450.65,278.05 L450.90,278.06 L451.15,278.07 L451.40,278.08 L451.65,278.09 L451.90,278.10" fill="none" stroke="#3c3c3c" stroke-width="0.7" stroke-linejoin="round"/>
<path d="M293.5 193.1V278.3M511.8 193.1V278.3" fill="none" stroke="#777" stroke-width="1.15"/>
<line x1="293.0" x2="512.3" y1="278.3" y2="278.3" stroke="#444" stroke-width="1.1"/>
<line x1="292.9" x2="512.4" y1="193.1" y2="193.1" stroke="#484848" stroke-width="1.6"/>
<line x1="305.9" x2="305.9" y1="190.5" y2="193.1" stroke="#555" stroke-width="0.8"/>
<text class="sa" x="305.59999999999997" y="188.9" font-size="6.05" font-weight="normal" text-anchor="start" fill="#222" stroke="#222" stroke-width="0.2" letter-spacing="0">3300</text>
<line x1="369.3" x2="369.3" y1="190.5" y2="193.1" stroke="#555" stroke-width="0.8"/>
<text class="sa" x="369.0" y="188.9" font-size="6.05" font-weight="normal" text-anchor="start" fill="#222" stroke="#222" stroke-width="0.2" letter-spacing="0">3600</text>
<line x1="432.5" x2="432.5" y1="190.5" y2="193.1" stroke="#555" stroke-width="0.8"/>
<text class="sa" x="432.2" y="188.9" font-size="6.05" font-weight="normal" text-anchor="start" fill="#222" stroke="#222" stroke-width="0.2" letter-spacing="0">3900</text>
<line x1="495.4" x2="495.4" y1="190.5" y2="193.1" stroke="#555" stroke-width="0.8"/>
<text class="sa" x="495.09999999999997" y="188.9" font-size="6.05" font-weight="normal" text-anchor="start" fill="#222" stroke="#222" stroke-width="0.2" letter-spacing="0">4200</text>
<line x1="290.7" x2="293.5" y1="277.6" y2="277.6" stroke="#444" stroke-width="0.8"/>
<line x1="291.9" x2="293.5" y1="271.35" y2="271.35" stroke="#888" stroke-width="0.5"/>
<text class="sa" x="289.1" y="279.778" font-size="6.05" font-weight="normal" text-anchor="end" fill="#222" stroke="#222" stroke-width="0.2" letter-spacing="0">0</text>
<line x1="290.7" x2="293.5" y1="265.1" y2="265.1" stroke="#444" stroke-width="0.8"/>
<line x1="291.9" x2="293.5" y1="258.85" y2="258.85" stroke="#888" stroke-width="0.5"/>
<text class="sa" x="289.1" y="267.278" font-size="6.05" font-weight="normal" text-anchor="end" fill="#222" stroke="#222" stroke-width="0.2" letter-spacing="0">900</text>
<line x1="290.7" x2="293.5" y1="252.60000000000002" y2="252.60000000000002" stroke="#444" stroke-width="0.8"/>
<line x1="291.9" x2="293.5" y1="246.35" y2="246.35" stroke="#888" stroke-width="0.5"/>
<text class="sa" x="289.1" y="254.77800000000002" font-size="6.05" font-weight="normal" text-anchor="end" fill="#222" stroke="#222" stroke-width="0.2" letter-spacing="0">1800</text>
<line x1="290.7" x2="293.5" y1="240.10000000000002" y2="240.10000000000002" stroke="#444" stroke-width="0.8"/>
<line x1="291.9" x2="293.5" y1="233.85" y2="233.85" stroke="#888" stroke-width="0.5"/>
<text class="sa" x="289.1" y="242.27800000000002" font-size="6.05" font-weight="normal" text-anchor="end" fill="#222" stroke="#222" stroke-width="0.2" letter-spacing="0">2700</text>
<line x1="290.7" x2="293.5" y1="227.60000000000002" y2="227.60000000000002" stroke="#444" stroke-width="0.8"/>
<line x1="291.9" x2="293.5" y1="221.35" y2="221.35" stroke="#888" stroke-width="0.5"/>
<text class="sa" x="289.1" y="229.77800000000002" font-size="6.05" font-weight="normal" text-anchor="end" fill="#222" stroke="#222" stroke-width="0.2" letter-spacing="0">3600</text>
<line x1="290.7" x2="293.5" y1="215.10000000000002" y2="215.10000000000002" stroke="#444" stroke-width="0.8"/>
<line x1="291.9" x2="293.5" y1="208.85" y2="208.85" stroke="#888" stroke-width="0.5"/>
<text class="sa" x="289.1" y="217.27800000000002" font-size="6.05" font-weight="normal" text-anchor="end" fill="#222" stroke="#222" stroke-width="0.2" letter-spacing="0">4500</text>
<line x1="290.7" x2="293.5" y1="202.60000000000002" y2="202.60000000000002" stroke="#444" stroke-width="0.8"/>
<text class="sa" x="289.1" y="204.77800000000002" font-size="6.05" font-weight="normal" text-anchor="end" fill="#222" stroke="#222" stroke-width="0.2" letter-spacing="0">5400</text>
<text class="sa" x="494.4" y="213.3" font-size="20.5" font-weight="bold" text-anchor="start" fill="#000" >ii</text>
<text class="se" x="393.8" y="297.6" font-size="14.9" font-weight="bold" text-anchor="middle" fill="#000" stroke="#000" stroke-width="0.15">KO1 spleen</text>
<path d="M21.50,408.54 L21.75,408.54 L22.00,408.54 L22.25,408.54 L22.50,408.54 L22.75,408.54 L23.00,408.54 L23.25,408.54 L23.50,408.54 L23.75,408.54 L24.00,408.54 L24.25,408.54 L24.50,408.54 L24.75,408.54 L25.00,408.54 L25.25,408.54 L25.50,408.54 L25.75,408.54 L26.00,408.54 L26.25,408.54 L26.50,408.54 L26.75,408.54 L27.00,408.54 L27.25,408.54 L27.50,408.54 L27.75,408.54 L28.00,408.54 L28.25,408.54 L28.50,408.54 L28.75,408.54 L29.00,408.54 L29.25,408.54 L29.50,408.54 L29.75,408.54 L30.00,408.54 L30.25,408.54 L30.50,408.54 L30.75,408.54 L31.00,408.54 L31.25,408.54 L31.50,408.54 L31.75,408.54 L32.00,408.54 L32.25,408.54 L32.50,408.54 L32.75,408.54 L33.00,408.54 L33.25,408.54 L33.50,408.54 L33.75,408.54 L34.00,408.54 L34.25,408.54 L34.50,408.54 L34.75,408.54 L35.00,408.54 L35.25,408.54 L35.50,408.54 L35.75,408.54 L36.00,408.54 L36.25,408.54 L36.50,408.54 L36.75,408.54 L37.00,408.54 L37.25,408.54 L37.50,408.54 L37.75,408.54 L38.00,408.54 L38.25,408.54 L38.50,408.54 L38.75,408.54 L39.00,408.54 L39.25,408.54 L39.50,408.54 L39.75,408.54 L40.00,408.54 L40.25,408.54 L40.50,408.54 L40.75,408.54 L41.00,408.54 L41.25,408.54 L41.50,408.54 L41.75,408.54 L42.00,408.54 L42.25,408.54 L42.50,408.54 L42.75,408.54 L43.00,408.54 L43.25,408.54 L43.50,408.54 L43.75,408.54 L44.00,408.54 L44.25,408.54 L44.50,408.54 L44.75,408.54 L45.00,408.54 L45.25,408.54 L45.50,408.54 L45.75,408.54 L46.00,408.54 L46.25,408.54 L46.50,408.54 L46.75,408.54 L47.00,408.54 L47.25,408.54 L47.50,408.54 L47.75,408.54 L48.00,408.54 L48.25,408.54 L48.50,408.54 L48.75,408.54 L49.00,408.54 L49.25,408.54 L49.50,408.54 L49.75,408.54 L50.00,408.54 L50.25,408.54 L50.50,408.54 L50.75,408.54 L51.00,408.54 L51.25,408.54 L51.50,408.54 L51.75,408.54 L52.00,408.54 L52.25,408.54 L52.50,408.54 L52.75,408.54 L53.00,408.54 L53.25,408.54 L53.50,408.54 L53.75,408.54 L54.00,408.54 L54.25,408.54 L54.50,408.54 L54.75,408.54 L55.00,408.54 L55.25,408.54 L55.50,408.54 L55.75,408.54 L56.00,408.54 L56.25,408.54 L56.50,408.54 L56.75,408.54 L57.00,408.54 L57.25,408.54 L57.50,408.54 L57.75,408.54 L58.00,408.54 L58.25,408.54 L58.50,408.54 L58.75,408.54 L59.00,408.54 L59.25,408.54 L59.50,408.54 L59.75,408.54 L60.00,408.54 L60.25,408.54 L60.50,408.54 L60.75,408.54 L61.00,408.54 L61.25,408.54 L61.50,408.54 L61.75,408.53 L62.00,408.53 L62.25,408.53 L62.50,408.53 L62.75,408.53 L63.00,408.53 L63.25,408.53 L63.50,408.53 L63.75,408.53 L64.00,408.53 L64.25,408.53 L64.50,408.53 L64.75,408.53 L65.00,408.53 L65.25,408.53 L65.50,408.53 L65.75,408.53 L66.00,408.53 L66.25,408.53 L66.50,408.53 L66.75,408.53 L67.00,408.53 L67.25,408.53 L67.50,408.53 L67.75,408.53 L68.00,408.53 L68.25,408.53 L68.50,408.53 L68.75,408.53 L69.00,408.53 L69.25,408.53 L69.50,408.53 L69.75,408.53 L70.00,408.53 L70.25,408.53 L70.50,408.53 L70.75,408.53 L71.00,408.53 L71.25,408.53 L71.50,408.53 L71.75,408.53 L72.00,408.53 L72.25,408.53 L72.50,408.53 L72.75,408.53 L73.00,408.53 L73.25,408.53 L73.50,408.53 L73.75,408.53 L74.00,408.53 L74.25,408.53 L74.50,408.53 L74.75,408.53 L75.00,408.52 L75.25,408.52 L75.50,408.52 L75.75,408.52 L76.00,408.52 L76.25,408.52 L76.50,408.52 L76.75,408.52 L77.00,408.52 L77.25,408.52 L77.50,408.52 L77.75,408.52 L78.00,408.52 L78.25,408.52 L78.50,408.52 L78.75,408.52 L79.00,408.52 L79.25,408.52 L79.50,408.52 L79.75,408.52 L80.00,408.52 L80.25,408.52 L80.50,408.52 L80.75,408.52 L81.00,408.52 L81.25,408.52 L81.50,408.52 L81.75,408.51 L82.00,408.51 L82.25,408.51 L82.50,408.51 L82.75,408.51 L83.00,408.51 L83.25,408.51 L83.50,408.51 L83.75,408.51 L84.00,408.51 L84.25,408.51 L84.50,408.51 L84.75,408.51 L85.00,408.51 L85.25,408.51 L85.50,408.51 L85.75,408.51 L86.00,408.50 L86.25,408.50 L86.50,408.50 L86.75,408.50 L87.00,408.50 L87.25,408.50 L87.50,408.50 L87.75,408.50 L88.00,408.50 L88.25,408.50 L88.50,408.50 L88.75,408.49 L89.00,408.49 L89.25,408.49 L89.50,408.49 L89.75,408.49 L90.00,408.49 L90.25,408.49 L90.50,408.49 L90.75,408.48 L91.00,408.48 L91.25,408.48 L91.50,408.48 L91.75,408.48 L92.00,408.48 L92.25,408.47 L92.50,408.47 L92.75,408.47 L93.00,408.47 L93.25,408.47 L93.50,408.46 L93.75,408.46 L94.00,408.46 L94.25,408.46 L94.50,408.45 L94.75,408.45 L95.00,408.45 L95.25,408.44 L95.50,408.44 L95.75,408.43 L96.00,408.43 L96.25,408.43 L96.50,408.42 L96.75,408.42 L97.00,408.41 L97.25,408.40 L97.50,408.40 L97.75,408.39 L98.00,408.38 L98.25,408.37 L98.50,408.37 L98.75,408.36 L99.00,408.35 L99.25,408.33 L99.50,408.32 L99.75,408.30 L100.00,408.29 L100.25,408.27 L100.50,408.25 L100.75,408.22 L101.00,408.20 L101.25,408.17 L101.50,408.13 L101.75,408.09 L102.00,408.04 L102.25,407.98 L102.50,407.90 L102.75,407.81 L103.00,407.67 L103.25,407.46 L103.50,407.11 L103.75,406.51 L104.00,405.51 L104.25,403.89 L104.50,401.46 L104.75,398.12 L105.00,393.95 L105.25,389.33 L105.50,384.98 L105.75,381.90 L106.00,381.11 L106.25,382.90 L106.50,386.62 L106.75,391.18 L107.00,395.68 L107.25,399.55 L107.50,402.52 L107.75,404.59 L108.00,405.94 L108.25,406.75 L108.50,407.23 L108.75,407.50 L109.00,407.68 L109.25,407.79 L109.50,407.87 L109.75,407.93 L110.00,407.98 L110.25,408.03 L110.50,408.06 L110.75,408.09 L111.00,408.11 L111.25,408.13 L111.50,408.15 L111.75,408.16 L112.00,408.17 L112.25,408.18 L112.50,408.19 L112.75,408.19 L113.00,408.20 L113.25,408.20 L113.50,408.20 L113.75,408.20 L114.00,408.20 L114.25,408.20 L114.50,408.19 L114.75,408.19 L115.00,408.18 L115.25,408.18 L115.50,408.17 L115.75,408.16 L116.00,408.15 L116.25,408.14 L116.50,408.12 L116.75,408.11 L117.00,408.09 L117.25,408.07 L117.50,408.05 L117.75,408.03 L118.00,408.01 L118.25,407.98 L118.50,407.95 L118.75,407.92 L119.00,407.88 L119.25,407.84 L119.50,407.79 L119.75,407.74 L120.00,407.69 L120.25,407.62 L120.50,407.55 L120.75,407.46 L121.00,407.36 L121.25,407.25 L121.50,407.11 L121.75,406.93 L122.00,406.70 L122.25,406.37 L122.50,405.88 L122.75,405.12 L123.00,403.92 L123.25,402.08 L123.50,399.35 L123.75,395.49 L124.00,390.37 L124.25,384.02 L124.50,376.75 L124.75,369.18 L125.00,362.28 L125.25,357.29 L125.50,355.40 L125.75,357.15 L126.00,362.00 L126.25,368.74 L126.50,376.14 L126.75,383.20 L127.00,389.28 L127.25,394.03 L127.50,397.35 L127.75,399.27 L128.00,399.89 L128.25,399.27 L128.50,397.45 L128.75,394.44 L129.00,390.28 L129.25,385.12 L129.50,379.28 L129.75,373.30 L130.00,367.94 L130.25,364.13 L130.50,362.77 L130.75,364.22 L131.00,368.11 L131.25,373.57 L131.50,379.66 L131.75,385.63 L132.00,390.97 L132.25,395.38 L132.50,398.78 L132.75,401.21 L133.00,402.81 L133.25,403.70 L133.50,404.00 L133.75,403.73 L134.00,402.89 L134.25,401.42 L134.50,399.27 L134.75,396.43 L135.00,393.02 L135.25,389.30 L135.50,385.68 L135.75,382.76 L136.00,381.19 L136.25,381.41 L136.50,383.37 L136.75,386.55 L137.00,390.31 L137.25,394.07 L137.50,397.46 L137.75,400.25 L138.00,402.36 L138.25,403.78 L138.50,404.59 L138.75,404.85 L139.00,404.58 L139.25,403.78 L139.50,402.47 L139.75,400.66 L140.00,398.46 L140.25,396.08 L140.50,393.86 L140.75,392.25 L141.00,391.68 L141.25,392.34 L141.50,394.06 L141.75,396.38 L142.00,398.87 L142.25,401.21 L142.50,403.18 L142.75,404.73 L143.00,405.85 L143.25,406.61 L143.50,407.11 L143.75,407.42 L144.00,407.62 L144.25,407.75 L144.50,407.85 L144.75,407.91 L145.00,407.97 L145.25,408.01 L145.50,408.05 L145.75,408.09 L146.00,408.12 L146.25,408.14 L146.50,408.17 L146.75,408.19 L147.00,408.21 L147.25,408.23 L147.50,408.24 L147.75,408.26 L148.00,408.27 L148.25,408.28 L148.50,408.30 L148.75,408.31 L149.00,408.32 L149.25,408.33 L149.50,408.33 L149.75,408.34 L150.00,408.35 L150.25,408.36 L150.50,408.36 L150.75,408.37 L151.00,408.38 L151.25,408.38 L151.50,408.39 L151.75,408.39 L152.00,408.40 L152.25,408.40 L152.50,408.41 L152.75,408.41 L153.00,408.41 L153.25,408.42 L153.50,408.42 L153.75,408.42 L154.00,408.43 L154.25,408.43 L154.50,408.43 L154.75,408.44 L155.00,408.44 L155.25,408.44 L155.50,408.44 L155.75,408.45 L156.00,408.45 L156.25,408.45 L156.50,408.45 L156.75,408.46 L157.00,408.46 L157.25,408.46 L157.50,408.46 L157.75,408.46 L158.00,408.47 L158.25,408.47 L158.50,408.47 L158.75,408.47 L159.00,408.47 L159.25,408.47 L159.50,408.48 L159.75,408.48" fill="none" stroke="#3c3c3c" stroke-width="0.7" stroke-linejoin="round"/>
<path d="M21 324.7V408.7M238 324.7V408.7" fill="none" stroke="#777" stroke-width="1.15"/>
<line x1="20.5" x2="238.5" y1="408.7" y2="408.7" stroke="#444" stroke-width="1.1"/>
<line x1="20.4" x2="238.6" y1="324.7" y2="324.7" stroke="#484848" stroke-width="1.6"/>
<line x1="32.6" x2="32.6" y1="322.09999999999997" y2="324.7" stroke="#555" stroke-width="0.8"/>
<text class="sa" x="32.300000000000004" y="319.8" font-size="6.0" font-weight="normal" text-anchor="start" fill="#222" stroke="#222" stroke-width="0.2" letter-spacing="0">3300</text>
<line x1="93.3" x2="93.3" y1="322.09999999999997" y2="324.7" stroke="#555" stroke-width="0.8"/>
<text class="sa" x="93.0" y="319.8" font-size="6.0" font-weight="normal" text-anchor="start" fill="#222" stroke="#222" stroke-width="0.2" letter-spacing="0">3600</text>
<line x1="153.6" x2="153.6" y1="322.09999999999997" y2="324.7" stroke="#555" stroke-width="0.8"/>
<text class="sa" x="153.29999999999998" y="319.8" font-size="6.0" font-weight="normal" text-anchor="start" fill="#222" stroke="#222" stroke-width="0.2" letter-spacing="0">3900</text>
<line x1="213.2" x2="213.2" y1="322.09999999999997" y2="324.7" stroke="#555" stroke-width="0.8"/>
<text class="sa" x="212.89999999999998" y="319.8" font-size="6.0" font-weight="normal" text-anchor="start" fill="#222" stroke="#222" stroke-width="0.2" letter-spacing="0">4200</text>
<line x1="18.2" x2="21" y1="408.5" y2="408.5" stroke="#444" stroke-width="0.8"/>
<line x1="19.4" x2="21" y1="404.36" y2="404.36" stroke="#888" stroke-width="0.5"/>
<text class="sa" x="16.6" y="410.66" font-size="6.0" font-weight="normal" text-anchor="end" fill="#222" stroke="#222" stroke-width="0.2" letter-spacing="0">0</text>
<line x1="18.2" x2="21" y1="400.21" y2="400.21" stroke="#444" stroke-width="0.8"/>
<line x1="19.4" x2="21" y1="396.06" y2="396.06" stroke="#888" stroke-width="0.5"/>
<text class="sa" x="16.6" y="402.37" font-size="6.0" font-weight="normal" text-anchor="end" fill="#222" stroke="#222" stroke-width="0.2" letter-spacing="0">900</text>
<line x1="18.2" x2="21" y1="391.92" y2="391.92" stroke="#444" stroke-width="0.8"/>
<line x1="19.4" x2="21" y1="387.77" y2="387.77" stroke="#888" stroke-width="0.5"/>
<text class="sa" x="16.6" y="394.08000000000004" font-size="6.0" font-weight="normal" text-anchor="end" fill="#222" stroke="#222" stroke-width="0.2" letter-spacing="0">1800</text>
<line x1="18.2" x2="21" y1="383.63" y2="383.63" stroke="#444" stroke-width="0.8"/>
<line x1="19.4" x2="21" y1="379.49" y2="379.49" stroke="#888" stroke-width="0.5"/>
<text class="sa" x="16.6" y="385.79" font-size="6.0" font-weight="normal" text-anchor="end" fill="#222" stroke="#222" stroke-width="0.2" letter-spacing="0">2700</text>
<line x1="18.2" x2="21" y1="375.34000000000003" y2="375.34000000000003" stroke="#444" stroke-width="0.8"/>
<line x1="19.4" x2="21" y1="371.20" y2="371.20" stroke="#888" stroke-width="0.5"/>
<text class="sa" x="16.6" y="377.50000000000006" font-size="6.0" font-weight="normal" text-anchor="end" fill="#222" stroke="#222" stroke-width="0.2" letter-spacing="0">3600</text>
<line x1="18.2" x2="21" y1="367.05" y2="367.05" stroke="#444" stroke-width="0.8"/>
<line x1="19.4" x2="21" y1="362.90" y2="362.90" stroke="#888" stroke-width="0.5"/>
<text class="sa" x="16.6" y="369.21000000000004" font-size="6.0" font-weight="normal" text-anchor="end" fill="#222" stroke="#222" stroke-width="0.2" letter-spacing="0">4500</text>
<line x1="18.2" x2="21" y1="358.76" y2="358.76" stroke="#444" stroke-width="0.8"/>
<line x1="19.4" x2="21" y1="354.62" y2="354.62" stroke="#888" stroke-width="0.5"/>
<text class="sa" x="16.6" y="360.92" font-size="6.0" font-weight="normal" text-anchor="end" fill="#222" stroke="#222" stroke-width="0.2" letter-spacing="0">5400</text>
<line x1="18.2" x2="21" y1="350.47" y2="350.47" stroke="#444" stroke-width="0.8"/>
<line x1="19.4" x2="21" y1="346.33" y2="346.33" stroke="#888" stroke-width="0.5"/>
<text class="sa" x="16.6" y="352.63000000000005" font-size="6.0" font-weight="normal" text-anchor="end" fill="#222" stroke="#222" stroke-width="0.2" letter-spacing="0">6300</text>
<line x1="18.2" x2="21" y1="342.18" y2="342.18" stroke="#444" stroke-width="0.8"/>
<line x1="19.4" x2="21" y1="338.03" y2="338.03" stroke="#888" stroke-width="0.5"/>
<text class="sa" x="16.6" y="344.34000000000003" font-size="6.0" font-weight="normal" text-anchor="end" fill="#222" stroke="#222" stroke-width="0.2" letter-spacing="0">7200</text>
<line x1="18.2" x2="21" y1="333.89" y2="333.89" stroke="#444" stroke-width="0.8"/>
<text class="sa" x="16.6" y="336.05" font-size="6.0" font-weight="normal" text-anchor="end" fill="#222" stroke="#222" stroke-width="0.2" letter-spacing="0">8100</text>
<text class="sa" x="216.9" y="344.8" font-size="20.5" font-weight="bold" text-anchor="start" fill="#000" >iii</text>
<text class="se" x="123.1" y="424.9" font-size="14.9" font-weight="bold" text-anchor="middle" fill="#000" stroke="#000" stroke-width="0.15">KO1 liver</text>
<path d="M295.40,406.95 L295.65,406.95 L295.90,406.95 L296.15,406.95 L296.40,406.95 L296.65,406.95 L296.90,406.95 L297.15,406.95 L297.40,406.95 L297.65,406.95 L297.90,406.95 L298.15,406.95 L298.40,406.95 L298.65,406.95 L298.90,406.95 L299.15,406.95 L299.40,406.95 L299.65,406.95 L299.90,406.95 L300.15,406.95 L300.40,406.95 L300.65,406.95 L300.90,406.95 L301.15,406.95 L301.40,406.95 L301.65,406.95 L301.90,406.95 L302.15,406.95 L302.40,406.95 L302.65,406.95 L302.90,406.95 L303.15,406.95 L303.40,406.95 L303.65,406.95 L303.90,406.95 L304.15,406.95 L304.40,406.95 L304.65,406.95 L304.90,406.95 L305.15,406.95 L305.40,406.95 L305.65,406.95 L305.90,406.95 L306.15,406.95 L306.40,406.95 L306.65,406.95 L306.90,406.95 L307.15,406.95 L307.40,406.95 L307.65,406.95 L307.90,406.95 L308.15,406.95 L308.40,406.95 L308.65,406.95 L308.90,406.95 L309.15,406.95 L309.40,406.95 L309.65,406.95 L309.90,406.95 L310.15,406.95 L310.40,406.95 L310.65,406.95 L310.90,406.95 L311.15,406.95 L311.40,406.95 L311.65,406.95 L311.90,406.95 L312.15,406.95 L312.40,406.95 L312.65,406.95 L312.90,406.95 L313.15,406.95 L313.40,406.95 L313.65,406.95 L313.90,406.95 L314.15,406.95 L314.40,406.95 L314.65,406.95 L314.90,406.95 L315.15,406.95 L315.40,406.95 L315.65,406.95 L315.90,406.95 L316.15,406.95 L316.40,406.95 L316.65,406.95 L316.90,406.95 L317.15,406.95 L317.40,406.95 L317.65,406.95 L317.90,406.95 L318.15,406.95 L318.40,406.95 L318.65,406.95 L318.90,406.95 L319.15,406.95 L319.40,406.95 L319.65,406.95 L319.90,406.95 L320.15,406.95 L320.40,406.95 L320.65,406.95 L320.90,406.95 L321.15,406.95 L321.40,406.95 L321.65,406.95 L321.90,406.95 L322.15,406.95 L322.40,406.95 L322.65,406.95 L322.90,406.95 L323.15,406.95 L323.40,406.95 L323.65,406.95 L323.90,406.95 L324.15,406.95 L324.40,406.95 L324.65,406.95 L324.90,406.95 L325.15,406.95 L325.40,406.95 L325.65,406.95 L325.90,406.95 L326.15,406.95 L326.40,406.95 L326.65,406.95 L326.90,406.95 L327.15,406.95 L327.40,406.95 L327.65,406.95 L327.90,406.95 L328.15,406.95 L328.40,406.95 L328.65,406.95 L328.90,406.95 L329.15,406.94 L329.40,406.94 L329.65,406.94 L329.90,406.94 L330.15,406.94 L330.40,406.94 L330.65,406.94 L330.90,406.94 L331.15,406.94 L331.40,406.94 L331.65,406.94 L331.90,406.94 L332.15,406.94 L332.40,406.94 L332.65,406.94 L332.90,406.94 L333.15,406.94 L333.40,406.94 L333.65,406.94 L333.90,406.94 L334.15,406.94 L334.40,406.94 L334.65,406.94 L334.90,406.94 L335.15,406.94 L335.40,406.94 L335.65,406.94 L335.90,406.94 L336.15,406.94 L336.40,406.94 L336.65,406.94 L336.90,406.94 L337.15,406.94 L337.40,406.94 L337.65,406.94 L337.90,406.94 L338.15,406.94 L338.40,406.94 L338.65,406.94 L338.90,406.94 L339.15,406.94 L339.40,406.94 L339.65,406.94 L339.90,406.94 L340.15,406.94 L340.40,406.94 L340.65,406.94 L340.90,406.94 L341.15,406.94 L341.40,406.94 L341.65,406.94 L341.90,406.94 L342.15,406.94 L342.40,406.94 L342.65,406.94 L342.90,406.94 L343.15,406.94 L343.40,406.94 L343.65,406.94 L343.90,406.94 L344.15,406.94 L344.40,406.94 L344.65,406.94 L344.90,406.94 L345.15,406.94 L345.40,406.94 L345.65,406.94 L345.90,406.94 L346.15,406.94 L346.40,406.94 L346.65,406.94 L346.90,406.94 L347.15,406.94 L347.40,406.94 L347.65,406.94 L347.90,406.94 L348.15,406.94 L348.40,406.94 L348.65,406.94 L348.90,406.94 L349.15,406.94 L349.40,406.94 L349.65,406.94 L349.90,406.94 L350.15,406.94 L350.40,406.94 L350.65,406.94 L350.90,406.94 L351.15,406.94 L351.40,406.94 L351.65,406.94 L351.90,406.94 L352.15,406.94 L352.40,406.94 L352.65,406.94 L352.90,406.94 L353.15,406.94 L353.40,406.94 L353.65,406.94 L353.90,406.94 L354.15,406.94 L354.40,406.94 L354.65,406.94 L354.90,406.94 L355.15,406.94 L355.40,406.94 L355.65,406.94 L355.90,406.94 L356.15,406.94 L356.40,406.94 L356.65,406.93 L356.90,406.93 L357.15,406.93 L357.40,406.93 L357.65,406.93 L357.90,406.93 L358.15,406.93 L358.40,406.93 L358.65,406.93 L358.90,406.93 L359.15,406.93 L359.40,406.92 L359.65,406.92 L359.90,406.92 L360.15,406.91 L360.40,406.91 L360.65,406.90 L360.90,406.89 L361.15,406.88 L361.40,406.87 L361.65,406.85 L361.90,406.83 L362.15,406.81 L362.40,406.78 L362.65,406.75 L362.90,406.72 L363.15,406.67 L363.40,406.62 L363.65,406.57 L363.90,406.50 L364.15,406.43 L364.40,406.35 L364.65,406.27 L364.90,406.17 L365.15,406.07 L365.40,405.96 L365.65,405.84 L365.90,405.72 L366.15,405.59 L366.40,405.46 L366.65,405.33 L366.90,405.20 L367.15,405.08 L367.40,404.95 L367.65,404.84 L367.90,404.73 L368.15,404.63 L368.40,404.54 L368.65,404.47 L368.90,404.41 L369.15,404.37 L369.40,404.35 L369.65,404.34 L369.90,404.35 L370.15,404.38 L370.40,404.43 L370.65,404.49 L370.90,404.57 L371.15,404.66 L371.40,404.76 L371.65,404.87 L371.90,404.99 L372.15,405.11 L372.40,405.24 L372.65,405.37 L372.90,405.50 L373.15,405.62 L373.40,405.75 L373.65,405.86 L373.90,405.98 L374.15,406.08 L374.40,406.18 L374.65,406.27 L374.90,406.35 L375.15,406.43 L375.40,406.49 L375.65,406.55 L375.90,406.60 L376.15,406.65 L376.40,406.68 L376.65,406.72 L376.90,406.74 L377.15,406.77 L377.40,406.78 L377.65,406.80 L377.90,406.81 L378.15,406.82 L378.40,406.82 L378.65,406.83 L378.90,406.83 L379.15,406.83 L379.40,406.83 L379.65,406.83 L379.90,406.83 L380.15,406.83 L380.40,406.82 L380.65,406.82 L380.90,406.81 L381.15,406.81 L381.40,406.80 L381.65,406.79 L381.90,406.78 L382.15,406.77 L382.40,406.76 L382.65,406.75 L382.90,406.74 L383.15,406.73 L383.40,406.71 L383.65,406.70 L383.90,406.68 L384.15,406.66 L384.40,406.64 L384.65,406.61 L384.90,406.58 L385.15,406.54 L385.40,406.50 L385.65,406.43 L385.90,406.34 L386.15,406.21 L386.40,405.98 L386.65,405.60 L386.90,404.98 L387.15,403.99 L387.40,402.48 L387.65,400.30 L387.90,397.34 L388.15,393.59 L388.40,389.17 L388.65,384.38 L388.90,379.69 L389.15,375.73 L389.40,373.16 L389.65,372.52 L389.90,373.96 L390.15,377.14 L390.40,381.46 L390.65,386.23 L390.90,390.90 L391.15,395.06 L391.40,398.48 L391.65,401.09 L391.90,402.96 L392.15,404.22 L392.40,405.02 L392.65,405.50 L392.90,405.77 L393.15,405.92 L393.40,405.99 L393.65,406.02 L393.90,406.02 L394.15,405.99 L394.40,405.95 L394.65,405.89 L394.90,405.79 L395.15,405.63 L395.40,405.38 L395.65,404.94 L395.90,404.21 L396.15,402.97 L396.40,400.97 L396.65,397.89 L396.90,393.37 L397.15,387.16 L397.40,379.16 L397.65,369.58 L397.90,359.02 L398.15,348.46 L398.40,339.21 L398.65,332.77 L398.90,330.45 L399.15,332.78 L399.40,339.23 L399.65,348.48 L399.90,359.06 L400.15,369.63 L400.40,379.21 L400.65,387.22 L400.90,393.44 L401.15,397.97 L401.40,401.07 L401.65,403.08 L401.90,404.33 L402.15,405.08 L402.40,405.53 L402.65,405.81 L402.90,405.98 L403.15,406.11 L403.40,406.20 L403.65,406.27 L403.90,406.34 L404.15,406.39 L404.40,406.43 L404.65,406.48 L404.90,406.51 L405.15,406.54 L405.40,406.57 L405.65,406.60 L405.90,406.62 L406.15,406.64 L406.40,406.66 L406.65,406.68 L406.90,406.69 L407.15,406.71 L407.40,406.72 L407.65,406.73 L407.90,406.74 L408.15,406.75 L408.40,406.76 L408.65,406.77 L408.90,406.78 L409.15,406.79 L409.40,406.80 L409.65,406.80 L409.90,406.81 L410.15,406.81 L410.40,406.82 L410.65,406.82 L410.90,406.83 L411.15,406.83 L411.40,406.84 L411.65,406.84 L411.90,406.85 L412.15,406.85 L412.40,406.85 L412.65,406.86 L412.90,406.86 L413.15,406.86 L413.40,406.87 L413.65,406.87 L413.90,406.87 L414.15,406.87 L414.40,406.88 L414.65,406.88 L414.90,406.88 L415.15,406.88 L415.40,406.88 L415.65,406.89 L415.90,406.89 L416.15,406.89 L416.40,406.89 L416.65,406.89 L416.90,406.89 L417.15,406.90 L417.40,406.90 L417.65,406.90 L417.90,406.90 L418.15,406.90 L418.40,406.90 L418.65,406.90 L418.90,406.90 L419.15,406.90 L419.40,406.91 L419.65,406.91 L419.90,406.91" fill="none" stroke="#3c3c3c" stroke-width="0.7" stroke-linejoin="round"/>
<path d="M294.9 323.7V407.1M511.8 323.7V407.1" fill="none" stroke="#777" stroke-width="1.15"/>
<line x1="294.4" x2="512.3" y1="407.1" y2="407.1" stroke="#444" stroke-width="1.1"/>
<line x1="294.29999999999995" x2="512.4" y1="323.7" y2="323.7" stroke="#484848" stroke-width="1.6"/>
<line x1="329.2" x2="329.2" y1="321.09999999999997" y2="323.7" stroke="#555" stroke-width="0.8"/>
<text class="sa" x="328.9" y="319.5" font-size="7.0" font-weight="normal" text-anchor="start" fill="#222" stroke="#222" stroke-width="0.2" letter-spacing="0.2">3600</text>
<line x1="445.6" x2="445.6" y1="321.09999999999997" y2="323.7" stroke="#555" stroke-width="0.8"/>
<text class="sa" x="445.3" y="319.5" font-size="7.0" font-weight="normal" text-anchor="start" fill="#222" stroke="#222" stroke-width="0.2" letter-spacing="0.2">3900</text>
<line x1="292.09999999999997" x2="294.9" y1="406.9" y2="406.9" stroke="#444" stroke-width="0.8"/>
<line x1="293.29999999999995" x2="294.9" y1="401.75" y2="401.75" stroke="#888" stroke-width="0.5"/>
<text class="sa" x="290.3" y="409.41999999999996" font-size="7.0" font-weight="normal" text-anchor="end" fill="#222" stroke="#222" stroke-width="0.2" letter-spacing="0.2">0</text>
<line x1="292.09999999999997" x2="294.9" y1="396.59999999999997" y2="396.59999999999997" stroke="#444" stroke-width="0.8"/>
<line x1="293.29999999999995" x2="294.9" y1="391.45" y2="391.45" stroke="#888" stroke-width="0.5"/>
<text class="sa" x="290.3" y="399.11999999999995" font-size="7.0" font-weight="normal" text-anchor="end" fill="#222" stroke="#222" stroke-width="0.2" letter-spacing="0.2">1000</text>
<line x1="292.09999999999997" x2="294.9" y1="386.29999999999995" y2="386.29999999999995" stroke="#444" stroke-width="0.8"/>
<line x1="293.29999999999995" x2="294.9" y1="381.15" y2="381.15" stroke="#888" stroke-width="0.5"/>
<text class="sa" x="290.3" y="388.81999999999994" font-size="7.0" font-weight="normal" text-anchor="end" fill="#222" stroke="#222" stroke-width="0.2" letter-spacing="0.2">2000</text>
<line x1="292.09999999999997" x2="294.9" y1="376.0" y2="376.0" stroke="#444" stroke-width="0.8"/>
<line x1="293.29999999999995" x2="294.9" y1="370.85" y2="370.85" stroke="#888" stroke-width="0.5"/>
<text class="sa" x="290.3" y="378.52" font-size="7.0" font-weight="normal" text-anchor="end" fill="#222" stroke="#222" stroke-width="0.2" letter-spacing="0.2">3000</text>
<line x1="292.09999999999997" x2="294.9" y1="365.7" y2="365.7" stroke="#444" stroke-width="0.8"/>
<line x1="293.29999999999995" x2="294.9" y1="360.55" y2="360.55" stroke="#888" stroke-width="0.5"/>
<text class="sa" x="290.3" y="368.21999999999997" font-size="7.0" font-weight="normal" text-anchor="end" fill="#222" stroke="#222" stroke-width="0.2" letter-spacing="0.2">4000</text>
<line x1="292.09999999999997" x2="294.9" y1="355.4" y2="355.4" stroke="#444" stroke-width="0.8"/>
<line x1="293.29999999999995" x2="294.9" y1="350.25" y2="350.25" stroke="#888" stroke-width="0.5"/>
<text class="sa" x="290.3" y="357.91999999999996" font-size="7.0" font-weight="normal" text-anchor="end" fill="#222" stroke="#222" stroke-width="0.2" letter-spacing="0.2">5000</text>
<line x1="292.09999999999997" x2="294.9" y1="345.09999999999997" y2="345.09999999999997" stroke="#444" stroke-width="0.8"/>
<line x1="293.29999999999995" x2="294.9" y1="339.95" y2="339.95" stroke="#888" stroke-width="0.5"/>
<text class="sa" x="290.3" y="347.61999999999995" font-size="7.0" font-weight="normal" text-anchor="end" fill="#222" stroke="#222" stroke-width="0.2" letter-spacing="0.2">6000</text>
<line x1="292.09999999999997" x2="294.9" y1="334.79999999999995" y2="334.79999999999995" stroke="#444" stroke-width="0.8"/>
<text class="sa" x="290.3" y="337.31999999999994" font-size="7.0" font-weight="normal" text-anchor="end" fill="#222" stroke="#222" stroke-width="0.2" letter-spacing="0.2">7000</text>
<text class="sa" x="490" y="343.8" font-size="20.5" font-weight="bold" text-anchor="start" fill="#000" >iv</text>
<text class="se" x="394" y="424.9" font-size="14.9" font-weight="bold" text-anchor="middle" fill="#000" stroke="#000" stroke-width="0.15">KO1 kidney</text>
<line x1="519" x2="519" y1="196" y2="292" stroke="#ececec" stroke-width="1.2"/>
<line x1="519" x2="519" y1="325" y2="412" stroke="#ececec" stroke-width="1.2"/>
</svg>
</body>
</html>
